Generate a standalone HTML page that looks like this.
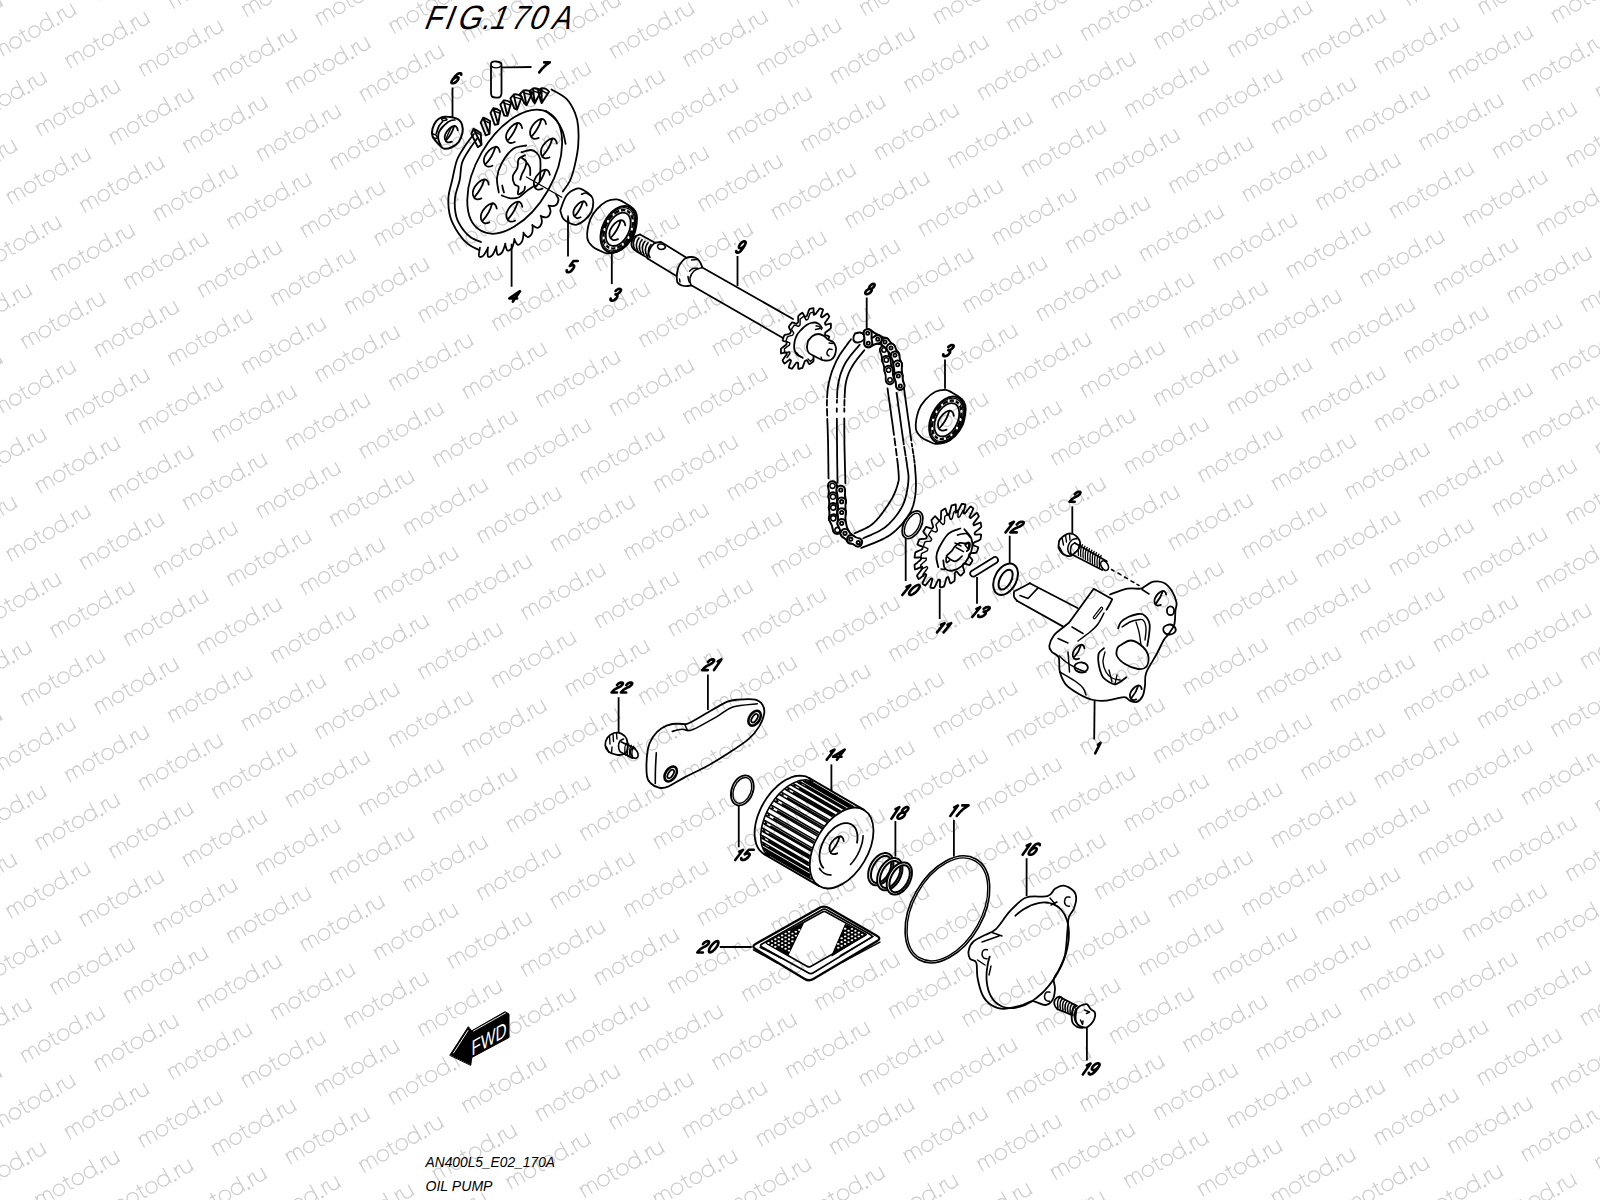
<!DOCTYPE html><html><head><meta charset="utf-8"><style>html,body{margin:0;padding:0;background:#fff;overflow:hidden}svg{display:block}</style></head><body><svg width="1600" height="1200" viewBox="0 0 1600 1200"><rect width="1600" height="1200" fill="#fff"/><defs><path id="wm" d="M0.4 0V-11.3M0.4 -6.8C0.9 -10 2.5 -11.3 4.2 -11.3C6.3 -11.3 7.7 -9.8 7.7 -7.2V0M7.7 -7.2C7.9 -10 9.5 -11.3 11.4 -11.3C13.6 -11.3 15.2 -9.8 15.2 -7V0M29.85 -5.65A5.65 5.65 0 1 0 18.55 -5.65A5.65 5.65 0 1 0 29.85 -5.65M34.6 -14.6V-3C34.6 -0.8 35.6 0 37.8 0M31.8 -11.1H37.9M51.65 -5.65A5.65 5.65 0 1 0 40.35 -5.65A5.65 5.65 0 1 0 51.65 -5.65M65.45 -5.65A5.65 5.65 0 1 0 54.15 -5.65A5.65 5.65 0 1 0 65.45 -5.65M65.45 -16.4V0M70.3 -0.75A0.75 0.75 0 1 0 70.31 -0.75M75.4 0V-11.3M75.4 -6.5C75.8 -9.8 77.5 -11.3 80 -11.3M81.3 -11.3V-5C81.3 -1.8 83.2 0 86.1 0C89 0 90.9 -1.8 90.9 -5M90.9 -11.3V0"/></defs><g fill="none" stroke="#cdcdcd" stroke-width="1.25" stroke-linecap="round"><use href="#wm" transform="translate(-46.7 -16.9) rotate(-30)"/><use href="#wm" transform="translate(-76.1 51.2) rotate(-30)"/><use href="#wm" transform="translate(-105.6 119.2) rotate(-30)"/><use href="#wm" transform="translate(26.9 -8.5) rotate(-30)"/><use href="#wm" transform="translate(-2.6 59.5) rotate(-30)"/><use href="#wm" transform="translate(-32.0 127.6) rotate(-30)"/><use href="#wm" transform="translate(-61.5 195.6) rotate(-30)"/><use href="#wm" transform="translate(-91.0 263.7) rotate(-30)"/><use href="#wm" transform="translate(100.5 -0.2) rotate(-30)"/><use href="#wm" transform="translate(71.0 67.9) rotate(-30)"/><use href="#wm" transform="translate(41.5 135.9) rotate(-30)"/><use href="#wm" transform="translate(12.1 204.0) rotate(-30)"/><use href="#wm" transform="translate(-17.4 272.1) rotate(-30)"/><use href="#wm" transform="translate(-46.9 340.1) rotate(-30)"/><use href="#wm" transform="translate(-76.3 408.2) rotate(-30)"/><use href="#wm" transform="translate(-105.8 476.2) rotate(-30)"/><use href="#wm" transform="translate(174.0 8.2) rotate(-30)"/><use href="#wm" transform="translate(144.6 76.2) rotate(-30)"/><use href="#wm" transform="translate(115.1 144.3) rotate(-30)"/><use href="#wm" transform="translate(85.6 212.3) rotate(-30)"/><use href="#wm" transform="translate(56.2 280.4) rotate(-30)"/><use href="#wm" transform="translate(26.7 348.5) rotate(-30)"/><use href="#wm" transform="translate(-2.8 416.5) rotate(-30)"/><use href="#wm" transform="translate(-32.2 484.6) rotate(-30)"/><use href="#wm" transform="translate(-61.7 552.6) rotate(-30)"/><use href="#wm" transform="translate(-91.2 620.7) rotate(-30)"/><use href="#wm" transform="translate(247.6 16.5) rotate(-30)"/><use href="#wm" transform="translate(218.2 84.6) rotate(-30)"/><use href="#wm" transform="translate(188.7 152.6) rotate(-30)"/><use href="#wm" transform="translate(159.2 220.7) rotate(-30)"/><use href="#wm" transform="translate(129.7 288.8) rotate(-30)"/><use href="#wm" transform="translate(100.3 356.8) rotate(-30)"/><use href="#wm" transform="translate(70.8 424.9) rotate(-30)"/><use href="#wm" transform="translate(41.3 492.9) rotate(-30)"/><use href="#wm" transform="translate(11.9 561.0) rotate(-30)"/><use href="#wm" transform="translate(-17.6 629.1) rotate(-30)"/><use href="#wm" transform="translate(-47.1 697.1) rotate(-30)"/><use href="#wm" transform="translate(-76.5 765.2) rotate(-30)"/><use href="#wm" transform="translate(-106.0 833.2) rotate(-30)"/><use href="#wm" transform="translate(321.2 24.9) rotate(-30)"/><use href="#wm" transform="translate(291.7 92.9) rotate(-30)"/><use href="#wm" transform="translate(262.3 161.0) rotate(-30)"/><use href="#wm" transform="translate(232.8 229.0) rotate(-30)"/><use href="#wm" transform="translate(203.3 297.1) rotate(-30)"/><use href="#wm" transform="translate(173.8 365.2) rotate(-30)"/><use href="#wm" transform="translate(144.4 433.2) rotate(-30)"/><use href="#wm" transform="translate(114.9 501.3) rotate(-30)"/><use href="#wm" transform="translate(85.4 569.3) rotate(-30)"/><use href="#wm" transform="translate(56.0 637.4) rotate(-30)"/><use href="#wm" transform="translate(26.5 705.5) rotate(-30)"/><use href="#wm" transform="translate(-3.0 773.5) rotate(-30)"/><use href="#wm" transform="translate(-32.4 841.6) rotate(-30)"/><use href="#wm" transform="translate(-61.9 909.6) rotate(-30)"/><use href="#wm" transform="translate(-91.4 977.7) rotate(-30)"/><use href="#wm" transform="translate(394.8 33.2) rotate(-30)"/><use href="#wm" transform="translate(365.3 101.3) rotate(-30)"/><use href="#wm" transform="translate(335.8 169.3) rotate(-30)"/><use href="#wm" transform="translate(306.4 237.4) rotate(-30)"/><use href="#wm" transform="translate(276.9 305.5) rotate(-30)"/><use href="#wm" transform="translate(247.4 373.5) rotate(-30)"/><use href="#wm" transform="translate(217.9 441.6) rotate(-30)"/><use href="#wm" transform="translate(188.5 509.6) rotate(-30)"/><use href="#wm" transform="translate(159.0 577.7) rotate(-30)"/><use href="#wm" transform="translate(129.5 645.8) rotate(-30)"/><use href="#wm" transform="translate(100.1 713.8) rotate(-30)"/><use href="#wm" transform="translate(70.6 781.9) rotate(-30)"/><use href="#wm" transform="translate(41.1 849.9) rotate(-30)"/><use href="#wm" transform="translate(11.7 918.0) rotate(-30)"/><use href="#wm" transform="translate(-17.8 986.1) rotate(-30)"/><use href="#wm" transform="translate(-47.3 1054.1) rotate(-30)"/><use href="#wm" transform="translate(-76.8 1122.2) rotate(-30)"/><use href="#wm" transform="translate(-106.2 1190.2) rotate(-30)"/><use href="#wm" transform="translate(468.3 41.6) rotate(-30)"/><use href="#wm" transform="translate(438.9 109.6) rotate(-30)"/><use href="#wm" transform="translate(409.4 177.7) rotate(-30)"/><use href="#wm" transform="translate(379.9 245.7) rotate(-30)"/><use href="#wm" transform="translate(350.5 313.8) rotate(-30)"/><use href="#wm" transform="translate(321.0 381.9) rotate(-30)"/><use href="#wm" transform="translate(291.5 449.9) rotate(-30)"/><use href="#wm" transform="translate(262.0 518.0) rotate(-30)"/><use href="#wm" transform="translate(232.6 586.0) rotate(-30)"/><use href="#wm" transform="translate(203.1 654.1) rotate(-30)"/><use href="#wm" transform="translate(173.6 722.2) rotate(-30)"/><use href="#wm" transform="translate(144.2 790.2) rotate(-30)"/><use href="#wm" transform="translate(114.7 858.3) rotate(-30)"/><use href="#wm" transform="translate(85.2 926.3) rotate(-30)"/><use href="#wm" transform="translate(55.8 994.4) rotate(-30)"/><use href="#wm" transform="translate(26.3 1062.5) rotate(-30)"/><use href="#wm" transform="translate(-3.2 1130.5) rotate(-30)"/><use href="#wm" transform="translate(-32.7 1198.6) rotate(-30)"/><use href="#wm" transform="translate(571.4 -18.1) rotate(-30)"/><use href="#wm" transform="translate(541.9 49.9) rotate(-30)"/><use href="#wm" transform="translate(512.4 118.0) rotate(-30)"/><use href="#wm" transform="translate(483.0 186.0) rotate(-30)"/><use href="#wm" transform="translate(453.5 254.1) rotate(-30)"/><use href="#wm" transform="translate(424.0 322.2) rotate(-30)"/><use href="#wm" transform="translate(394.6 390.2) rotate(-30)"/><use href="#wm" transform="translate(365.1 458.3) rotate(-30)"/><use href="#wm" transform="translate(335.6 526.3) rotate(-30)"/><use href="#wm" transform="translate(306.1 594.4) rotate(-30)"/><use href="#wm" transform="translate(276.7 662.5) rotate(-30)"/><use href="#wm" transform="translate(247.2 730.5) rotate(-30)"/><use href="#wm" transform="translate(217.7 798.6) rotate(-30)"/><use href="#wm" transform="translate(188.3 866.6) rotate(-30)"/><use href="#wm" transform="translate(158.8 934.7) rotate(-30)"/><use href="#wm" transform="translate(129.3 1002.8) rotate(-30)"/><use href="#wm" transform="translate(99.9 1070.8) rotate(-30)"/><use href="#wm" transform="translate(70.4 1138.9) rotate(-30)"/><use href="#wm" transform="translate(40.9 1206.9) rotate(-30)"/><use href="#wm" transform="translate(644.9 -9.8) rotate(-30)"/><use href="#wm" transform="translate(615.5 58.3) rotate(-30)"/><use href="#wm" transform="translate(586.0 126.3) rotate(-30)"/><use href="#wm" transform="translate(556.5 194.4) rotate(-30)"/><use href="#wm" transform="translate(527.1 262.4) rotate(-30)"/><use href="#wm" transform="translate(497.6 330.5) rotate(-30)"/><use href="#wm" transform="translate(468.1 398.6) rotate(-30)"/><use href="#wm" transform="translate(438.7 466.6) rotate(-30)"/><use href="#wm" transform="translate(409.2 534.7) rotate(-30)"/><use href="#wm" transform="translate(379.7 602.7) rotate(-30)"/><use href="#wm" transform="translate(350.2 670.8) rotate(-30)"/><use href="#wm" transform="translate(320.8 738.9) rotate(-30)"/><use href="#wm" transform="translate(291.3 806.9) rotate(-30)"/><use href="#wm" transform="translate(261.8 875.0) rotate(-30)"/><use href="#wm" transform="translate(232.4 943.0) rotate(-30)"/><use href="#wm" transform="translate(202.9 1011.1) rotate(-30)"/><use href="#wm" transform="translate(173.4 1079.2) rotate(-30)"/><use href="#wm" transform="translate(144.0 1147.2) rotate(-30)"/><use href="#wm" transform="translate(114.5 1215.3) rotate(-30)"/><use href="#wm" transform="translate(718.5 -1.4) rotate(-30)"/><use href="#wm" transform="translate(689.0 66.6) rotate(-30)"/><use href="#wm" transform="translate(659.6 134.7) rotate(-30)"/><use href="#wm" transform="translate(630.1 202.7) rotate(-30)"/><use href="#wm" transform="translate(600.6 270.8) rotate(-30)"/><use href="#wm" transform="translate(571.2 338.9) rotate(-30)"/><use href="#wm" transform="translate(541.7 406.9) rotate(-30)"/><use href="#wm" transform="translate(512.2 475.0) rotate(-30)"/><use href="#wm" transform="translate(482.8 543.0) rotate(-30)"/><use href="#wm" transform="translate(453.3 611.1) rotate(-30)"/><use href="#wm" transform="translate(423.8 679.1) rotate(-30)"/><use href="#wm" transform="translate(394.3 747.2) rotate(-30)"/><use href="#wm" transform="translate(364.9 815.3) rotate(-30)"/><use href="#wm" transform="translate(335.4 883.3) rotate(-30)"/><use href="#wm" transform="translate(305.9 951.4) rotate(-30)"/><use href="#wm" transform="translate(276.5 1019.5) rotate(-30)"/><use href="#wm" transform="translate(247.0 1087.5) rotate(-30)"/><use href="#wm" transform="translate(217.5 1155.6) rotate(-30)"/><use href="#wm" transform="translate(188.0 1223.6) rotate(-30)"/><use href="#wm" transform="translate(792.1 6.9) rotate(-30)"/><use href="#wm" transform="translate(762.6 75.0) rotate(-30)"/><use href="#wm" transform="translate(733.1 143.0) rotate(-30)"/><use href="#wm" transform="translate(703.7 211.1) rotate(-30)"/><use href="#wm" transform="translate(674.2 279.1) rotate(-30)"/><use href="#wm" transform="translate(644.7 347.2) rotate(-30)"/><use href="#wm" transform="translate(615.3 415.3) rotate(-30)"/><use href="#wm" transform="translate(585.8 483.3) rotate(-30)"/><use href="#wm" transform="translate(556.3 551.4) rotate(-30)"/><use href="#wm" transform="translate(526.9 619.4) rotate(-30)"/><use href="#wm" transform="translate(497.4 687.5) rotate(-30)"/><use href="#wm" transform="translate(467.9 755.6) rotate(-30)"/><use href="#wm" transform="translate(438.4 823.6) rotate(-30)"/><use href="#wm" transform="translate(409.0 891.7) rotate(-30)"/><use href="#wm" transform="translate(379.5 959.7) rotate(-30)"/><use href="#wm" transform="translate(350.0 1027.8) rotate(-30)"/><use href="#wm" transform="translate(320.6 1095.9) rotate(-30)"/><use href="#wm" transform="translate(291.1 1163.9) rotate(-30)"/><use href="#wm" transform="translate(261.6 1232.0) rotate(-30)"/><use href="#wm" transform="translate(865.7 15.2) rotate(-30)"/><use href="#wm" transform="translate(836.2 83.3) rotate(-30)"/><use href="#wm" transform="translate(806.7 151.4) rotate(-30)"/><use href="#wm" transform="translate(777.2 219.4) rotate(-30)"/><use href="#wm" transform="translate(747.8 287.5) rotate(-30)"/><use href="#wm" transform="translate(718.3 355.6) rotate(-30)"/><use href="#wm" transform="translate(688.8 423.6) rotate(-30)"/><use href="#wm" transform="translate(659.4 491.7) rotate(-30)"/><use href="#wm" transform="translate(629.9 559.7) rotate(-30)"/><use href="#wm" transform="translate(600.4 627.8) rotate(-30)"/><use href="#wm" transform="translate(571.0 695.9) rotate(-30)"/><use href="#wm" transform="translate(541.5 763.9) rotate(-30)"/><use href="#wm" transform="translate(512.0 832.0) rotate(-30)"/><use href="#wm" transform="translate(482.5 900.0) rotate(-30)"/><use href="#wm" transform="translate(453.1 968.1) rotate(-30)"/><use href="#wm" transform="translate(423.6 1036.2) rotate(-30)"/><use href="#wm" transform="translate(394.1 1104.2) rotate(-30)"/><use href="#wm" transform="translate(364.7 1172.3) rotate(-30)"/><use href="#wm" transform="translate(335.2 1240.3) rotate(-30)"/><use href="#wm" transform="translate(939.2 23.6) rotate(-30)"/><use href="#wm" transform="translate(909.8 91.7) rotate(-30)"/><use href="#wm" transform="translate(880.3 159.7) rotate(-30)"/><use href="#wm" transform="translate(850.8 227.8) rotate(-30)"/><use href="#wm" transform="translate(821.3 295.8) rotate(-30)"/><use href="#wm" transform="translate(791.9 363.9) rotate(-30)"/><use href="#wm" transform="translate(762.4 432.0) rotate(-30)"/><use href="#wm" transform="translate(732.9 500.0) rotate(-30)"/><use href="#wm" transform="translate(703.5 568.1) rotate(-30)"/><use href="#wm" transform="translate(674.0 636.1) rotate(-30)"/><use href="#wm" transform="translate(644.5 704.2) rotate(-30)"/><use href="#wm" transform="translate(615.1 772.3) rotate(-30)"/><use href="#wm" transform="translate(585.6 840.3) rotate(-30)"/><use href="#wm" transform="translate(556.1 908.4) rotate(-30)"/><use href="#wm" transform="translate(526.6 976.4) rotate(-30)"/><use href="#wm" transform="translate(497.2 1044.5) rotate(-30)"/><use href="#wm" transform="translate(467.7 1112.6) rotate(-30)"/><use href="#wm" transform="translate(438.2 1180.6) rotate(-30)"/><use href="#wm" transform="translate(408.8 1248.7) rotate(-30)"/><use href="#wm" transform="translate(1012.8 32.0) rotate(-30)"/><use href="#wm" transform="translate(983.3 100.0) rotate(-30)"/><use href="#wm" transform="translate(953.8 168.1) rotate(-30)"/><use href="#wm" transform="translate(924.4 236.1) rotate(-30)"/><use href="#wm" transform="translate(894.9 304.2) rotate(-30)"/><use href="#wm" transform="translate(865.4 372.2) rotate(-30)"/><use href="#wm" transform="translate(836.0 440.3) rotate(-30)"/><use href="#wm" transform="translate(806.5 508.4) rotate(-30)"/><use href="#wm" transform="translate(777.0 576.4) rotate(-30)"/><use href="#wm" transform="translate(747.6 644.5) rotate(-30)"/><use href="#wm" transform="translate(718.1 712.6) rotate(-30)"/><use href="#wm" transform="translate(688.6 780.6) rotate(-30)"/><use href="#wm" transform="translate(659.1 848.7) rotate(-30)"/><use href="#wm" transform="translate(629.7 916.7) rotate(-30)"/><use href="#wm" transform="translate(600.2 984.8) rotate(-30)"/><use href="#wm" transform="translate(570.7 1052.9) rotate(-30)"/><use href="#wm" transform="translate(541.3 1120.9) rotate(-30)"/><use href="#wm" transform="translate(511.8 1189.0) rotate(-30)"/><use href="#wm" transform="translate(482.3 1257.0) rotate(-30)"/><use href="#wm" transform="translate(1086.4 40.3) rotate(-30)"/><use href="#wm" transform="translate(1056.9 108.4) rotate(-30)"/><use href="#wm" transform="translate(1027.4 176.4) rotate(-30)"/><use href="#wm" transform="translate(998.0 244.5) rotate(-30)"/><use href="#wm" transform="translate(968.5 312.5) rotate(-30)"/><use href="#wm" transform="translate(939.0 380.6) rotate(-30)"/><use href="#wm" transform="translate(909.5 448.7) rotate(-30)"/><use href="#wm" transform="translate(880.1 516.7) rotate(-30)"/><use href="#wm" transform="translate(850.6 584.8) rotate(-30)"/><use href="#wm" transform="translate(821.1 652.8) rotate(-30)"/><use href="#wm" transform="translate(791.7 720.9) rotate(-30)"/><use href="#wm" transform="translate(762.2 789.0) rotate(-30)"/><use href="#wm" transform="translate(732.7 857.0) rotate(-30)"/><use href="#wm" transform="translate(703.3 925.1) rotate(-30)"/><use href="#wm" transform="translate(673.8 993.1) rotate(-30)"/><use href="#wm" transform="translate(644.3 1061.2) rotate(-30)"/><use href="#wm" transform="translate(614.8 1129.3) rotate(-30)"/><use href="#wm" transform="translate(585.4 1197.3) rotate(-30)"/><use href="#wm" transform="translate(1189.4 -19.4) rotate(-30)"/><use href="#wm" transform="translate(1159.9 48.6) rotate(-30)"/><use href="#wm" transform="translate(1130.5 116.7) rotate(-30)"/><use href="#wm" transform="translate(1101.0 184.8) rotate(-30)"/><use href="#wm" transform="translate(1071.5 252.8) rotate(-30)"/><use href="#wm" transform="translate(1042.1 320.9) rotate(-30)"/><use href="#wm" transform="translate(1012.6 388.9) rotate(-30)"/><use href="#wm" transform="translate(983.1 457.0) rotate(-30)"/><use href="#wm" transform="translate(953.6 525.1) rotate(-30)"/><use href="#wm" transform="translate(924.2 593.1) rotate(-30)"/><use href="#wm" transform="translate(894.7 661.2) rotate(-30)"/><use href="#wm" transform="translate(865.2 729.2) rotate(-30)"/><use href="#wm" transform="translate(835.8 797.3) rotate(-30)"/><use href="#wm" transform="translate(806.3 865.4) rotate(-30)"/><use href="#wm" transform="translate(776.8 933.4) rotate(-30)"/><use href="#wm" transform="translate(747.4 1001.5) rotate(-30)"/><use href="#wm" transform="translate(717.9 1069.6) rotate(-30)"/><use href="#wm" transform="translate(688.4 1137.6) rotate(-30)"/><use href="#wm" transform="translate(658.9 1205.7) rotate(-30)"/><use href="#wm" transform="translate(1263.0 -11.1) rotate(-30)"/><use href="#wm" transform="translate(1233.5 57.0) rotate(-30)"/><use href="#wm" transform="translate(1204.0 125.1) rotate(-30)"/><use href="#wm" transform="translate(1174.6 193.1) rotate(-30)"/><use href="#wm" transform="translate(1145.1 261.2) rotate(-30)"/><use href="#wm" transform="translate(1115.6 329.2) rotate(-30)"/><use href="#wm" transform="translate(1086.2 397.3) rotate(-30)"/><use href="#wm" transform="translate(1056.7 465.4) rotate(-30)"/><use href="#wm" transform="translate(1027.2 533.4) rotate(-30)"/><use href="#wm" transform="translate(997.7 601.5) rotate(-30)"/><use href="#wm" transform="translate(968.3 669.5) rotate(-30)"/><use href="#wm" transform="translate(938.8 737.6) rotate(-30)"/><use href="#wm" transform="translate(909.3 805.7) rotate(-30)"/><use href="#wm" transform="translate(879.9 873.7) rotate(-30)"/><use href="#wm" transform="translate(850.4 941.8) rotate(-30)"/><use href="#wm" transform="translate(820.9 1009.8) rotate(-30)"/><use href="#wm" transform="translate(791.5 1077.9) rotate(-30)"/><use href="#wm" transform="translate(762.0 1146.0) rotate(-30)"/><use href="#wm" transform="translate(732.5 1214.0) rotate(-30)"/><use href="#wm" transform="translate(1336.5 -2.7) rotate(-30)"/><use href="#wm" transform="translate(1307.1 65.3) rotate(-30)"/><use href="#wm" transform="translate(1277.6 133.4) rotate(-30)"/><use href="#wm" transform="translate(1248.1 201.5) rotate(-30)"/><use href="#wm" transform="translate(1218.7 269.5) rotate(-30)"/><use href="#wm" transform="translate(1189.2 337.6) rotate(-30)"/><use href="#wm" transform="translate(1159.7 405.6) rotate(-30)"/><use href="#wm" transform="translate(1130.2 473.7) rotate(-30)"/><use href="#wm" transform="translate(1100.8 541.8) rotate(-30)"/><use href="#wm" transform="translate(1071.3 609.8) rotate(-30)"/><use href="#wm" transform="translate(1041.8 677.9) rotate(-30)"/><use href="#wm" transform="translate(1012.4 746.0) rotate(-30)"/><use href="#wm" transform="translate(982.9 814.0) rotate(-30)"/><use href="#wm" transform="translate(953.4 882.1) rotate(-30)"/><use href="#wm" transform="translate(924.0 950.1) rotate(-30)"/><use href="#wm" transform="translate(894.5 1018.2) rotate(-30)"/><use href="#wm" transform="translate(865.0 1086.2) rotate(-30)"/><use href="#wm" transform="translate(835.5 1154.3) rotate(-30)"/><use href="#wm" transform="translate(806.1 1222.4) rotate(-30)"/><use href="#wm" transform="translate(1410.1 5.6) rotate(-30)"/><use href="#wm" transform="translate(1380.6 73.7) rotate(-30)"/><use href="#wm" transform="translate(1351.2 141.8) rotate(-30)"/><use href="#wm" transform="translate(1321.7 209.8) rotate(-30)"/><use href="#wm" transform="translate(1292.2 277.9) rotate(-30)"/><use href="#wm" transform="translate(1262.8 345.9) rotate(-30)"/><use href="#wm" transform="translate(1233.3 414.0) rotate(-30)"/><use href="#wm" transform="translate(1203.8 482.1) rotate(-30)"/><use href="#wm" transform="translate(1174.3 550.1) rotate(-30)"/><use href="#wm" transform="translate(1144.9 618.2) rotate(-30)"/><use href="#wm" transform="translate(1115.4 686.2) rotate(-30)"/><use href="#wm" transform="translate(1085.9 754.3) rotate(-30)"/><use href="#wm" transform="translate(1056.5 822.4) rotate(-30)"/><use href="#wm" transform="translate(1027.0 890.4) rotate(-30)"/><use href="#wm" transform="translate(997.5 958.5) rotate(-30)"/><use href="#wm" transform="translate(968.1 1026.5) rotate(-30)"/><use href="#wm" transform="translate(938.6 1094.6) rotate(-30)"/><use href="#wm" transform="translate(909.1 1162.7) rotate(-30)"/><use href="#wm" transform="translate(879.6 1230.7) rotate(-30)"/><use href="#wm" transform="translate(1483.7 14.0) rotate(-30)"/><use href="#wm" transform="translate(1454.2 82.0) rotate(-30)"/><use href="#wm" transform="translate(1424.7 150.1) rotate(-30)"/><use href="#wm" transform="translate(1395.3 218.2) rotate(-30)"/><use href="#wm" transform="translate(1365.8 286.2) rotate(-30)"/><use href="#wm" transform="translate(1336.3 354.3) rotate(-30)"/><use href="#wm" transform="translate(1306.9 422.4) rotate(-30)"/><use href="#wm" transform="translate(1277.4 490.4) rotate(-30)"/><use href="#wm" transform="translate(1247.9 558.5) rotate(-30)"/><use href="#wm" transform="translate(1218.5 626.5) rotate(-30)"/><use href="#wm" transform="translate(1189.0 694.6) rotate(-30)"/><use href="#wm" transform="translate(1159.5 762.6) rotate(-30)"/><use href="#wm" transform="translate(1130.0 830.7) rotate(-30)"/><use href="#wm" transform="translate(1100.6 898.8) rotate(-30)"/><use href="#wm" transform="translate(1071.1 966.8) rotate(-30)"/><use href="#wm" transform="translate(1041.6 1034.9) rotate(-30)"/><use href="#wm" transform="translate(1012.2 1103.0) rotate(-30)"/><use href="#wm" transform="translate(982.7 1171.0) rotate(-30)"/><use href="#wm" transform="translate(953.2 1239.1) rotate(-30)"/><use href="#wm" transform="translate(1557.2 22.3) rotate(-30)"/><use href="#wm" transform="translate(1527.8 90.4) rotate(-30)"/><use href="#wm" transform="translate(1498.3 158.5) rotate(-30)"/><use href="#wm" transform="translate(1468.8 226.5) rotate(-30)"/><use href="#wm" transform="translate(1439.4 294.6) rotate(-30)"/><use href="#wm" transform="translate(1409.9 362.6) rotate(-30)"/><use href="#wm" transform="translate(1380.4 430.7) rotate(-30)"/><use href="#wm" transform="translate(1351.0 498.8) rotate(-30)"/><use href="#wm" transform="translate(1321.5 566.8) rotate(-30)"/><use href="#wm" transform="translate(1292.0 634.9) rotate(-30)"/><use href="#wm" transform="translate(1262.5 702.9) rotate(-30)"/><use href="#wm" transform="translate(1233.1 771.0) rotate(-30)"/><use href="#wm" transform="translate(1203.6 839.1) rotate(-30)"/><use href="#wm" transform="translate(1174.1 907.1) rotate(-30)"/><use href="#wm" transform="translate(1144.7 975.2) rotate(-30)"/><use href="#wm" transform="translate(1115.2 1043.2) rotate(-30)"/><use href="#wm" transform="translate(1085.7 1111.3) rotate(-30)"/><use href="#wm" transform="translate(1056.3 1179.4) rotate(-30)"/><use href="#wm" transform="translate(1026.8 1247.4) rotate(-30)"/><use href="#wm" transform="translate(1630.8 30.7) rotate(-30)"/><use href="#wm" transform="translate(1601.3 98.8) rotate(-30)"/><use href="#wm" transform="translate(1571.9 166.8) rotate(-30)"/><use href="#wm" transform="translate(1542.4 234.9) rotate(-30)"/><use href="#wm" transform="translate(1512.9 302.9) rotate(-30)"/><use href="#wm" transform="translate(1483.5 371.0) rotate(-30)"/><use href="#wm" transform="translate(1454.0 439.1) rotate(-30)"/><use href="#wm" transform="translate(1424.5 507.1) rotate(-30)"/><use href="#wm" transform="translate(1395.1 575.2) rotate(-30)"/><use href="#wm" transform="translate(1365.6 643.2) rotate(-30)"/><use href="#wm" transform="translate(1336.1 711.3) rotate(-30)"/><use href="#wm" transform="translate(1306.6 779.4) rotate(-30)"/><use href="#wm" transform="translate(1277.2 847.4) rotate(-30)"/><use href="#wm" transform="translate(1247.7 915.5) rotate(-30)"/><use href="#wm" transform="translate(1218.2 983.5) rotate(-30)"/><use href="#wm" transform="translate(1188.8 1051.6) rotate(-30)"/><use href="#wm" transform="translate(1159.3 1119.7) rotate(-30)"/><use href="#wm" transform="translate(1129.8 1187.7) rotate(-30)"/><use href="#wm" transform="translate(1100.4 1255.8) rotate(-30)"/><use href="#wm" transform="translate(1645.5 175.2) rotate(-30)"/><use href="#wm" transform="translate(1616.0 243.2) rotate(-30)"/><use href="#wm" transform="translate(1586.5 311.3) rotate(-30)"/><use href="#wm" transform="translate(1557.0 379.3) rotate(-30)"/><use href="#wm" transform="translate(1527.6 447.4) rotate(-30)"/><use href="#wm" transform="translate(1498.1 515.5) rotate(-30)"/><use href="#wm" transform="translate(1468.6 583.5) rotate(-30)"/><use href="#wm" transform="translate(1439.2 651.6) rotate(-30)"/><use href="#wm" transform="translate(1409.7 719.6) rotate(-30)"/><use href="#wm" transform="translate(1380.2 787.7) rotate(-30)"/><use href="#wm" transform="translate(1350.8 855.8) rotate(-30)"/><use href="#wm" transform="translate(1321.3 923.8) rotate(-30)"/><use href="#wm" transform="translate(1291.8 991.9) rotate(-30)"/><use href="#wm" transform="translate(1262.3 1059.9) rotate(-30)"/><use href="#wm" transform="translate(1232.9 1128.0) rotate(-30)"/><use href="#wm" transform="translate(1203.4 1196.1) rotate(-30)"/><use href="#wm" transform="translate(1630.6 387.7) rotate(-30)"/><use href="#wm" transform="translate(1601.1 455.8) rotate(-30)"/><use href="#wm" transform="translate(1571.7 523.8) rotate(-30)"/><use href="#wm" transform="translate(1542.2 591.9) rotate(-30)"/><use href="#wm" transform="translate(1512.7 659.9) rotate(-30)"/><use href="#wm" transform="translate(1483.3 728.0) rotate(-30)"/><use href="#wm" transform="translate(1453.8 796.0) rotate(-30)"/><use href="#wm" transform="translate(1424.3 864.1) rotate(-30)"/><use href="#wm" transform="translate(1394.8 932.2) rotate(-30)"/><use href="#wm" transform="translate(1365.4 1000.2) rotate(-30)"/><use href="#wm" transform="translate(1335.9 1068.3) rotate(-30)"/><use href="#wm" transform="translate(1306.4 1136.4) rotate(-30)"/><use href="#wm" transform="translate(1277.0 1204.4) rotate(-30)"/><use href="#wm" transform="translate(1645.2 532.2) rotate(-30)"/><use href="#wm" transform="translate(1615.8 600.2) rotate(-30)"/><use href="#wm" transform="translate(1586.3 668.3) rotate(-30)"/><use href="#wm" transform="translate(1556.8 736.3) rotate(-30)"/><use href="#wm" transform="translate(1527.4 804.4) rotate(-30)"/><use href="#wm" transform="translate(1497.9 872.5) rotate(-30)"/><use href="#wm" transform="translate(1468.4 940.5) rotate(-30)"/><use href="#wm" transform="translate(1438.9 1008.6) rotate(-30)"/><use href="#wm" transform="translate(1409.5 1076.6) rotate(-30)"/><use href="#wm" transform="translate(1380.0 1144.7) rotate(-30)"/><use href="#wm" transform="translate(1350.5 1212.8) rotate(-30)"/><use href="#wm" transform="translate(1630.4 744.7) rotate(-30)"/><use href="#wm" transform="translate(1600.9 812.8) rotate(-30)"/><use href="#wm" transform="translate(1571.5 880.8) rotate(-30)"/><use href="#wm" transform="translate(1542.0 948.9) rotate(-30)"/><use href="#wm" transform="translate(1512.5 1016.9) rotate(-30)"/><use href="#wm" transform="translate(1483.0 1085.0) rotate(-30)"/><use href="#wm" transform="translate(1453.6 1153.1) rotate(-30)"/><use href="#wm" transform="translate(1424.1 1221.1) rotate(-30)"/><use href="#wm" transform="translate(1645.0 889.2) rotate(-30)"/><use href="#wm" transform="translate(1615.6 957.2) rotate(-30)"/><use href="#wm" transform="translate(1586.1 1025.3) rotate(-30)"/><use href="#wm" transform="translate(1556.6 1093.3) rotate(-30)"/><use href="#wm" transform="translate(1527.1 1161.4) rotate(-30)"/><use href="#wm" transform="translate(1497.7 1229.5) rotate(-30)"/><use href="#wm" transform="translate(1630.2 1101.7) rotate(-30)"/><use href="#wm" transform="translate(1600.7 1169.8) rotate(-30)"/><use href="#wm" transform="translate(1571.2 1237.8) rotate(-30)"/><use href="#wm" transform="translate(1644.8 1246.2) rotate(-30)"/></g><g fill="none" stroke="#000" stroke-width="1.8" stroke-linecap="round" stroke-linejoin="round"><ellipse cx="514.7" cy="171.7" rx="38.2" ry="68" transform="rotate(30 514.7 171.7)"/><path d="M551.5 89.4C554 91 562.6 94.8 566.5 98.8C570.4 102.7 573 108.1 575 112.8C577 117.5 577.7 121.4 578.2 126.9C578.7 132.4 578.7 139.3 578.2 145.6C577.7 151.8 576.3 158.7 575 164.4C573.7 170.1 572.3 175.5 570.3 180C568.3 184.5 564 189.6 562.8 191.5"/><path d="M546 111C547.7 112.5 553.2 116.7 556 120C558.8 123.3 560.9 127 562.5 131C564.1 135 565.1 141.6 565.6 143.8"/><path d="M474 134C472.5 136 467.8 141.7 465 146C462.2 150.3 459.1 154.3 457 160C454.9 165.7 453.6 173.7 452.2 180C450.8 186.3 448.7 191.8 448.4 198C448.1 204.2 448.6 210.9 450.3 216.9C452 222.9 455.8 229.2 458.8 233.8C461.7 238.3 464.7 241.3 468 244C471.3 246.7 476.7 248.8 478.4 249.7"/><path d="M477.5 138C476.1 140 471.6 145.8 469 150C466.4 154.2 463.6 158 462 163C460.4 168 460.9 174.2 459.7 180C458.5 185.8 455.6 191.8 455 198C454.4 204.2 455 211.6 456.4 216.9C457.8 222.2 461 226.6 463.4 230C465.8 233.4 468.1 235.5 471 237.5C473.9 239.5 479.3 241.2 481 242"/><path d="M481.5 144.8L473.5 128.9Q476.4 130 480.7 133L481.5 144.8ZM473.5 128.9L471.4 133.9L477.8 147.1L481.5 144.8M489.4 133.8L483.2 117.8Q486.2 118.3 490.2 121.3L489.4 133.8ZM483.2 117.8L480.7 122.7L485.8 135.3L489.4 133.8M498.2 124.1L493.3 108.3Q496.6 108.2 500.4 111.2L498.2 124.1ZM493.3 108.3L490.5 112.9L494.7 124.7L498.2 124.1M507.5 115.9L503.6 100.5Q507.3 99.9 511 102.9L507.5 115.9ZM503.6 100.5L500.4 104.7L504.3 115.6L507.5 115.9M517.1 109.5L513.7 94.5Q518 93.6 521.8 96.7L517.1 109.5ZM513.7 94.5L510.4 98.3L514.3 108.4L517.1 109.5M526.5 105.3L523.6 90.5Q528.5 89.5 532.3 92.8L526.5 105.3ZM523.6 90.5L520.2 93.8L524.3 103.3L526.5 105.3M534.7 103.3L533 88.4Q537.7 87.7 541 91.3L534.7 103.3ZM533 88.4L529.5 91.1L532.9 100.7L534.7 103.3M541.7 103.1L541.6 88.2Q546.2 87.8 549 91.7L541.7 103.1ZM541.6 88.2L538.1 90.4L540.4 99.9L541.7 103.1" stroke-width="1.9"/><path d="M474.8 131.6L480.9 135M484.2 120.5L490.1 123.4M494.1 111L500 113.4M504.2 103.1L510.4 105.1M514.3 97.1L521 98.9M524.1 93L531.3 94.9M533.3 90.9L540 93.3M541.6 90.7L547.8 93.6" stroke-width="1.4"/><path d="M556.1 194.7C556.5 195.6 558.6 198 558.5 199.8C558.3 201.6 556.9 204.5 555.3 205.5C553.8 206.5 550.1 205.8 549 205.9C548 206 548.8 204.9 549 205.9C549.3 206.9 550.9 210 550.5 211.8C550.2 213.7 548.5 216.5 546.9 217.2C545.4 218 542.1 216.4 541.1 216.2C540.2 216.1 541.1 215.1 541.1 216.2C541.2 217.4 542.3 221 541.7 222.9C541.1 224.9 539.2 227.4 537.7 227.9C536.2 228.3 533.4 225.9 532.6 225.5C531.8 225.1 532.7 224.3 532.6 225.5C532.5 226.7 533 230.8 532.2 232.7C531.4 234.7 529.3 237 527.9 237.1C526.5 237.2 524.3 234 523.6 233.4C522.9 232.8 523.8 232.1 523.6 233.4C523.4 234.7 523.2 239.2 522.2 241.1C521.3 243 519.1 245 517.8 244.8C516.5 244.5 515 240.6 514.4 239.8C513.8 238.9 514.8 238.5 514.4 239.8C514 241.1 513.3 245.9 512.1 247.7C511 249.5 508.7 251.1 507.6 250.6C506.4 250.1 505.6 245.5 505.2 244.5C504.8 243.5 505.7 243.2 505.2 244.5C504.7 245.8 503.3 250.7 502.1 252.4C500.8 254.1 498.5 255.3 497.6 254.5C496.6 253.7 496.5 248.6 496.2 247.4C496 246.2 496.9 246.1 496.2 247.4C495.6 248.7 493.7 253.7 492.3 255.2C491 256.7 488.7 257.5 488 256.4C487.2 255.2 487.8 249.8 487.7 248.5C487.7 247.1 488.5 247.2 487.7 248.5C487 249.7 484.6 254.6 483.1 255.9C481.7 257.1 479.6 257.5 479 256.1C478.5 254.8 479.7 249 479.9 247.6"/><path d="M499.8 152C499.3 147.9 497 146.4 495.1 146.8C491.3 147.4 486.5 152.2 484.5 157C483 160.8 484.1 165.6 487.4 166.5C489.3 167.1 491.2 166.4 492.5 165.8M495.2 147.4C493.8 152.2 490.8 158.4 486 163.7"/><path d="M522.1 128.2C521.6 124.2 519.2 122.7 517.3 123C513.5 123.6 508.8 128.5 506.8 133.2C505.2 137 506.4 141.8 509.6 142.8C511.5 143.4 513.4 142.6 514.7 142M517.4 123.6C516.1 128.5 513 134.6 508.3 139.9"/><path d="M546 124.1C545.5 120.1 543.1 118.6 541.2 118.9C537.4 119.5 532.7 124.4 530.7 129.1C529.2 132.9 530.3 137.8 533.5 138.7C535.4 139.3 537.3 138.5 538.7 137.9M541.3 119.5C540 124.4 536.9 130.5 532.2 135.9"/><path d="M556.8 143.5C556.4 139.5 554 138 552.1 138.4C548.3 138.9 543.5 143.8 541.5 148.5C540 152.3 541.2 157.2 544.4 158.1C546.3 158.7 548.2 157.9 549.5 157.4M552.2 138.9C550.9 143.8 547.8 150 543.1 155.3"/><path d="M549.8 174.9C549.3 170.9 546.9 169.3 545 169.7C541.2 170.3 536.5 175.1 534.5 179.9C533 183.7 534.1 188.5 537.3 189.5C539.2 190.1 541.1 189.3 542.5 188.7M545.1 170.3C543.8 175.1 540.7 181.3 536 186.6"/><path d="M522.3 206.9C521.8 202.9 519.5 201.3 517.6 201.7C513.8 202.3 509 207.1 507 211.9C505.5 215.7 506.6 220.5 509.9 221.5C511.8 222 513.7 221.3 515 220.7M517.7 202.3C516.3 207.1 513.3 213.3 508.5 218.6"/><path d="M496.7 208.5C496.2 204.5 493.8 203 491.9 203.3C488.1 203.9 483.4 208.8 481.4 213.5C479.9 217.3 481 222.2 484.2 223.1C486.1 223.7 488 222.9 489.4 222.3M492 203.9C490.7 208.8 487.7 214.9 482.9 220.3"/><path d="M488.7 184.6C488.3 180.6 485.9 179.1 484 179.4C480.2 180 475.4 184.9 473.4 189.6C471.9 193.4 473.1 198.3 476.3 199.2C478.2 199.8 480.1 199 481.4 198.4M484.1 180C482.8 184.9 479.7 191 475 196.4"/><path d="M526.2 145.5C524.1 146 517.4 145.8 513.3 148.8C509.2 151.7 504.4 158.4 501.7 163.3C499 168.2 497.5 173.1 497 178C496.5 182.9 498.5 190.1 498.8 192.5"/><path d="M501.7 195.4C503.1 195.9 507.5 198 510.4 198.3C513.3 198.6 516.1 198.6 519 197.2C521.9 195.8 525.3 191.9 528 190C530.7 188.1 533.8 186.2 535 185.5"/><path d="M521.5 152.2C523 151.9 528.3 149.9 530.8 150C533.3 150.1 535.1 151.3 536.7 152.8C538.3 154.3 539.6 155.6 540.2 159.2C540.8 162.9 540.3 171.4 540.2 175C540.1 178.6 539.7 179.8 539.6 180.8"/><path d="M502.2 185.5C502.4 186.1 502.7 187.8 503 189C503.3 190.2 503.8 191.9 504 192.5"/><path d="M525 155.2C523.9 155.9 519.9 157.1 518.6 159.2C517.3 161.4 518.4 165.2 517.4 168C516.4 170.8 513.2 173.5 512.8 176.2C512.3 178.9 513.5 182.6 514.5 184.3C515.5 186.1 518 185 518.6 186.7C519.2 188.4 517.1 193.6 518 194.2C518.9 194.9 522.6 192 523.8 190.8C525 189.5 524.8 187.4 525 186.7"/><path d="M520.3 179.7C520.6 178.8 521.2 175.9 522 174C522.8 172.1 524.3 170.1 525 168C525.7 165.9 526.7 163.3 526.2 161.6C525.7 159.9 522.7 158.6 522 158"/><path d="M527.3 163.3C527.8 164.1 529.5 166.1 530 168C530.5 169.9 530.2 173.8 530.2 175"/><path d="M526.5 177L561.8 197.2" stroke-width="1.3"/><path d="M432.5 128.8C433.1 126.2 434.7 123.2 436.2 121.2C437.8 119.3 440 117.8 441.9 117.1C443.8 116.3 445.6 116.7 447.5 116.8C449.4 116.8 451.2 117 453.1 117.5C455 118 457.2 118.5 458.8 119.8C460.2 121 461.5 122.9 462.1 125C462.7 127.1 463.1 129.7 462.5 132.5C461.9 135.3 460.6 139.4 458.8 141.9C456.9 144.4 453.8 146.4 451.2 147.5C448.8 148.6 445.9 149.2 443.8 148.6C441.6 148 440 145.8 438.1 143.8C436.2 141.7 433.4 138.8 432.5 136.2C431.6 133.8 431.9 131.2 432.5 128.8Z" stroke-width="2.0"/><path d="M447.5 122.4C446.7 123.2 443.9 125.4 442.5 127C441.1 128.6 439.7 130.3 439 132C438.3 133.7 438.1 135.4 438.1 137C438.1 138.6 438.6 140.1 439 141.5C439.4 142.9 440.5 144.6 440.8 145.2" stroke-width="1.9"/><path d="M436.3 133.5C436.8 132.2 437.9 128 439 126C440.1 124 442 122.3 442.6 121.6" stroke-width="1.7"/><path d="M442 118.5C442.5 118.2 444.2 118 445 118.2C445.8 118.4 447.1 119.1 447 119.5C446.9 119.9 445.3 120.4 444.5 120.5C443.7 120.6 442.4 120.3 442 120C441.6 119.7 441.5 118.8 442 118.5Z" stroke-width="1.5"/><path d="M433 134C433.5 134.2 435.3 134.2 436 135C436.7 135.8 437.2 138 437 138.5C436.8 139 434.9 138.1 434.5 138" stroke-width="1.5"/><path d="M447.5 122.4C448.1 122.1 449.8 120.9 451 120.5C452.2 120.1 454.3 120.1 455 120" stroke-width="1.5"/><path d="M457.8 130.3C457.4 127 455.5 125.7 453.9 126C450.8 126.5 446.9 130.5 445.3 134.4C444 137.5 445 141.5 447.6 142.3C449.2 142.7 450.7 142.1 451.8 141.6M454 126.5C452.9 130.5 450.4 135.6 446.5 139.9"/><path d="M451.8 126.8C451.5 127.3 450.7 128.6 450 130C449.3 131.4 448.2 134 447.5 135.5C446.8 137 446.2 138.4 446 139" stroke-width="1.4"/><path d="M491 66C491.1 65.4 490.7 63.2 491.5 62.5C492.3 61.8 494.4 61.4 496 61.5C497.6 61.6 500.1 62.2 501 63C501.9 63.8 501.4 65.5 501.5 66L501.5 93.5C501.2 94.1 500.9 96.3 500 97C499.1 97.7 497.3 97.7 496 97.6C494.7 97.5 492.8 97.3 492 96.5C491.2 95.7 491.2 93.6 491 93Z"/><path d="M491.2 66C493 68.5 499 68.5 501.3 66" stroke-width="1.3"/><path d="M560.7 209.3C561.7 206.5 564 198.7 566.7 195.3C569.4 191.9 573.9 189.6 576.7 188.7C579.5 187.8 580.9 188.8 583.3 190C585.7 191.2 589.6 194 591.3 196C593 198 593.3 199.3 593.3 202C593.3 204.7 592.7 209 591.3 212C589.9 215 587.1 217.9 584.7 220C582.3 222.1 579.2 224.1 576.7 224.7C574.2 225.2 572.2 224.3 570 223.3C567.8 222.3 564.8 220.6 563.3 218.7C561.8 216.8 561.1 213.6 560.7 212C560.3 210.4 559.7 212.1 560.7 209.3Z"/><path d="M581.5 194.3C582.2 194.1 584.4 192.7 586 193C587.6 193.3 590.2 195.5 591 196" stroke-width="1.5"/><path d="M568 216C568.1 216.7 568.3 218.8 568.5 220C568.7 221.2 568.9 222.5 569 223" stroke-width="1.5"/><path d="M586.8 205.7C586.4 202.3 584.4 201 582.8 201.3C579.6 201.8 575.6 205.9 573.9 209.9C572.6 213.1 573.6 217.2 576.3 218C577.9 218.5 579.5 217.8 580.6 217.3M582.9 201.8C581.8 205.9 579.2 211.1 575.2 215.6"/><path d="M647.5 257.8C645.2 256.3 636.2 251.4 633.5 249C630.8 246.6 631.4 245.5 631.5 243.5C631.6 241.5 632.6 238.5 634 237C635.4 235.5 639 234.9 640 234.5"/><path d="M640 234.5L655 242.75"/><path d="M636 236.5C633 239.5 632.5 245.5 635 249.5M639 238.1C636 241.1 635.5 247.1 638 251.1M642 239.7C639 242.7 638.5 248.7 641 252.7M645 241.3C642 244.3 641.5 250.3 644 254.3M648 242.9C645 245.9 644.5 251.9 647 255.9M651 244.5C648 247.5 647.5 253.5 650 257.5" stroke-width="1.6"/><path d="M655 242.8C654.3 243.5 652.1 245.3 651 247C649.9 248.7 649.1 251.1 648.5 253C647.9 254.9 647.7 257.6 647.5 258.5" stroke-width="1.6"/><path d="M655 242.75L661 242L686.5 257.75"/><path d="M647.5 258.5L676 275.75"/><path d="M658.5 248.5C658.3 248.1 657.2 246.8 657.5 246C657.8 245.2 658.9 244.2 660 244C661.1 243.8 663.2 244.3 664 245C664.8 245.7 665.5 247.2 665 248C664.5 248.8 662.1 249.4 661 249.5C659.9 249.6 658.9 248.7 658.5 248.5" stroke-width="1.5"/><path d="M676.8 275C677 273.7 677.6 269.2 678.5 267C679.4 264.8 680.8 263 682 261.5C683.2 260 684.5 258.8 686 258C687.5 257.2 689.3 257 691 257C692.7 257 694.6 257.4 696 258C697.4 258.6 698.2 259.3 699.2 260.8C700.3 262.2 701.8 265.8 702.2 266.8"/><path d="M676.8 275C676.9 276.2 676.6 280.8 677.5 282.5C678.4 284.2 680.5 284.9 682 285.5C683.5 286.1 685 286.2 686.5 286.2C688 286.2 690.2 285.6 691 285.5"/><path d="M689.5 271.2C690.1 270.8 691.6 269 693 268.5C694.4 268 697 268.3 697.8 268.2" stroke-width="1.5"/><path d="M688 276.5C688.1 277 688.2 278.5 688.5 279.5C688.8 280.5 689.3 282 689.5 282.5" stroke-width="1.5"/><path d="M691 285.5C690.8 284.2 689.5 280.4 690 278C690.5 275.6 692 272.8 694 271C696 269.2 700.9 268.1 702.2 267.5" stroke-width="1.5"/><path d="M691.5 260L697 259.5M680 282L679.5 279" stroke-width="1.4"/><path d="M702.25 267.5L793 319"/><path d="M691.75 285.5L783 338"/><path d="M587.3 238C586.8 233.6 588.4 224.8 590 220C591.6 215.2 593.9 212.4 596.7 209.3C599.5 206.2 603.4 203 606.7 201.3C610 199.6 613.9 199.2 616.7 199.3C619.5 199.4 620.5 200.4 623.3 202C626.1 203.6 631.1 206.6 633.3 208.7C635.5 210.8 636.1 212.3 636.7 214.7C637.3 217.1 637.2 220 636.7 223.3C636.2 226.6 635.7 231 634 234.7C632.3 238.4 629.6 242.4 626.7 245.3C623.8 248.2 620 250.7 616.7 252C613.4 253.3 609.5 253.5 606.7 253.3C603.9 253.1 602.3 251.8 600 250.7C597.7 249.6 594.8 248.8 592.7 246.7C590.6 244.6 587.8 242.4 587.3 238Z"/><ellipse cx="618.2" cy="229.3" rx="15.5" ry="24.7" transform="rotate(26 618.2 229.3)" stroke-width="2.0"/><ellipse cx="618.2" cy="229.3" rx="14.4" ry="23" transform="rotate(26 618.2 229.3)" stroke-width="1.3"/><ellipse cx="618.2" cy="229.3" rx="12.9" ry="20.5" transform="rotate(26 618.2 229.3)" stroke-width="2.4"/><path d="M629.5 237.4a1.1 1.5 0 1 0 -2.2 0a1.1 1.5 0 1 0 2.2 0M623.9 244.2a1.1 1.5 0 1 0 -2.2 0a1.1 1.5 0 1 0 2.2 0M617.4 248a1.1 1.5 0 1 0 -2.2 0a1.1 1.5 0 1 0 2.2 0M611.3 248.1a1.1 1.5 0 1 0 -2.2 0a1.1 1.5 0 1 0 2.2 0M606.8 244.5a1.1 1.5 0 1 0 -2.2 0a1.1 1.5 0 1 0 2.2 0M604.7 237.9a1.1 1.5 0 1 0 -2.2 0a1.1 1.5 0 1 0 2.2 0M605.6 229.5a1.1 1.5 0 1 0 -2.2 0a1.1 1.5 0 1 0 2.2 0M609.1 221.2a1.1 1.5 0 1 0 -2.2 0a1.1 1.5 0 1 0 2.2 0M614.7 214.4a1.1 1.5 0 1 0 -2.2 0a1.1 1.5 0 1 0 2.2 0M621.2 210.6a1.1 1.5 0 1 0 -2.2 0a1.1 1.5 0 1 0 2.2 0M627.3 210.5a1.1 1.5 0 1 0 -2.2 0a1.1 1.5 0 1 0 2.2 0M631.8 214.1a1.1 1.5 0 1 0 -2.2 0a1.1 1.5 0 1 0 2.2 0M633.9 220.7a1.1 1.5 0 1 0 -2.2 0a1.1 1.5 0 1 0 2.2 0M633 229.1a1.1 1.5 0 1 0 -2.2 0a1.1 1.5 0 1 0 2.2 0" fill="#fff" stroke="none"/><ellipse cx="618.2" cy="229.3" rx="10.8" ry="17.8" transform="rotate(26 618.2 229.3)" stroke-width="1.8"/><path d="M625.3 225.3C624.8 221.2 622.4 219.7 620.5 220.1C616.7 220.7 612 225.5 610 230.3C608.5 234.1 609.6 238.9 612.8 239.9C614.7 240.4 616.6 239.7 618 239.1M620.6 220.7C619.3 225.5 616.2 231.7 611.5 237"/><path d="M822.6 348.9 L823.1 350.1 L822.6 350.7 L822.2 351.4 L821.8 352 L821.4 352.6 L820.9 353.2 L820.5 353.8 L820 354.4 L819.2 354.5 L817.9 354.1 L816.8 353.6 L815.8 353.2 L815.1 353.3 L814.7 353.7 L814.4 354.1 L813.9 354.5 L813.5 354.9 L813.5 356.3 L813.6 357.9 L813.6 359.6 L813.5 361.2 L812.9 361.7 L812.4 362.1 L811.9 362.5 L811.3 363 L810.8 363.4 L810.2 363.8 L809.7 364.1 L809 363.9 L808.3 362.7 L807.7 361.5 L807.1 360.4 L806.7 360.1 L806.2 360.3 L805.8 360.6 L805.3 360.8 L804.9 361 L804.4 362.4 L803.8 364.1 L803.1 366 L802.4 367.9 L801.9 368 L801.3 368.2 L800.8 368.4 L800.2 368.5 L799.7 368.6 L799.1 368.8 L798.6 368.8 L798.2 368.4 L798.2 366.7 L798.2 365 L798.2 363.4 L798 362.7 L797.6 362.7 L797.2 362.7 L796.8 362.7 L796.5 362.6 L795.6 363.7 L794.5 365.3 L793.3 367 L792.1 368.7 L791.6 368.6 L791.1 368.5 L790.7 368.3 L790.2 368.2 L789.8 368 L789.4 367.8 L788.9 367.6 L788.8 367 L789.4 365.1 L790.1 363.2 L790.7 361.5 L791 360.5 L790.7 360.3 L790.4 360 L790.1 359.8 L789.9 359.5 L788.9 360.1 L787.5 361.2 L786 362.4 L784.5 363.5 L784.1 363.2 L783.8 362.8 L783.6 362.4 L783.3 362 L783.1 361.5 L782.9 361.1 L782.6 360.6 L782.7 359.9 L783.9 358.2 L785.1 356.5 L786.2 355 L786.8 354 L786.7 353.6 L786.6 353.2 L786.5 352.7 L786.4 352.3 L785.6 352.4 L784.2 352.7 L782.7 353.1 L781.2 353.5 L780.9 353 L780.9 352.4 L780.9 351.8 L780.9 351.2 L780.9 350.6 L780.9 349.9 L780.9 349.3 L781.1 348.6 L782.6 347.4 L784.1 346.3 L785.5 345.3 L786.4 344.4 L786.5 343.9 L786.6 343.4 L786.7 342.9 L786.8 342.3 L786.3 341.9 L785.2 341.5 L784 341.1 L782.8 340.6 L782.6 339.9 L782.9 339.3 L783.1 338.6 L783.3 337.9 L783.6 337.2 L783.8 336.5 L784.1 335.8 L784.4 335.2 L785.9 334.7 L787.4 334.4 L788.8 334 L789.9 333.7 L790.1 333.2 L790.4 332.7 L790.7 332.1 L791 331.6 L790.8 330.9 L790.2 329.8 L789.5 328.7 L788.9 327.4 L789 326.6 L789.4 326 L789.8 325.3 L790.2 324.7 L790.7 324.1 L791.1 323.5 L791.6 322.9 L792 322.3 L793.2 322.7 L794.5 323.2 L795.6 323.6 L796.5 323.9 L796.9 323.5 L797.2 323.1 L797.6 322.7 L798.1 322.3 L798.3 321.4 L798.2 320 L798.2 318.3 L798.2 316.5 L798.6 315.6 L799.1 315.1 L799.7 314.7 L800.2 314.3 L800.8 313.8 L801.3 313.4 L801.9 313.1 L802.4 312.7 L803.1 313.7 L803.8 314.9 L804.4 316.1 L804.9 317 L805.4 316.8 L805.8 316.5 L806.2 316.3 L806.7 316.1 L807.1 315.4 L807.7 313.8 L808.3 311.9 L809 310 L809.7 309 L810.2 308.9 L810.8 308.7 L811.3 308.6 L811.9 308.4 L812.4 308.3 L812.9 308.2 L813.5 308.1 L813.6 309.5 L813.6 311.2 L813.6 312.8 L813.6 314.2 L814 314.3 L814.4 314.3 L814.8 314.3 L815.1 314.4 L815.7 313.9 L816.7 312.5 L817.9 310.9 L819.1 309.2 L820 308.3 L820.5 308.5 L820.9 308.6 L821.4 308.8 L821.8 308.9 L822.2 309.1 L822.6 309.3 L823.1 309.5 L822.7 311 L822 312.9 L821.4 314.7 L820.8 316.2 L821 316.6 L821.3 316.8 L821.5 317.1 L821.8 317.3 L822.3 317.3 L823.6 316.3 L825 315.2 L826.5 314 L827.6 313.6 L827.8 314 L828.1 314.4 L828.4 314.8 L828.6 315.2 L828.8 315.7 L829.1 316.1 L829.3 316.6 L828.5 317.9 L827.3 319.6 L826.1 321.2 L825.1 322.6 L825 323.2 L825.1 323.6 L825.2 324.1 L825.3 324.5 L825.6 324.8 L826.9 324.5 L828.3 324.1 L829.8 323.7 L830.9 323.7 L830.9 324.3 L830.9 324.9 L830.9 325.5 L830.9 326.1 L830.9 326.8 L830.9 327.4 L830.9 328 L830 329 L828.4 330.2 L827 331.3 L825.7 332.2 L825.3 332.8 L825.2 333.3 L825.1 333.9 L825 334.4 L825 334.9 L826 335.3 L827.2 335.7 L828.4 336.1 L829.3 336.7 L829 337.4 L828.8 338.1 L828.6 338.8 L828.4 339.5 L828.1 340.1 L827.8 340.8 L827.6 341.5 L826.6 342.1 L825.1 342.5 L823.6 342.8 L822.4 343.1 L821.8 343.5 L821.5 344.1 L821.3 344.6 L821 345.1 L820.7 345.7 L821.3 346.6 L821.9 347.7 L822.6 348.9Z"/><path d="M786.9 357.6 L788 356.1 L789.1 354.7 L789.9 353.5 L789.8 353.1 L789.7 352.8 L789.6 352.4 L789.5 352 L789 351.9 L787.9 352.2 L786.5 352.6 L785.2 352.9 L784.5 352.7 L784.5 352.2 L784.5 351.6 L784.5 351.1 L784.5 350.5 L784.5 350 L784.5 349.4 L784.5 348.8 L785.6 347.9 L786.9 346.8 L788.2 345.9 L789.3 345.1 L789.6 344.5 L789.6 344.1 L789.7 343.6 L789.8 343.1 L789.7 342.7 L788.8 342.4 L787.7 342 L786.6 341.6 L786 341 L786.2 340.4 L786.4 339.8 L786.6 339.2 L786.8 338.6 L787 338 L787.3 337.4 L787.5 336.8 L788.4 336.3 L789.8 335.9 L791.1 335.6 L792.2 335.4 L792.7 335 L793 334.5 L793.2 334 L793.5 333.5 L793.7 333.1 L793.2 332.2 L792.6 331.2 L792 330.1 L791.6 329.1 L791.9 328.5 L792.3 327.9 L792.7 327.4 L793.1 326.8 L793.5 326.3 L793.9 325.8 L794.3 325.2 L795 325.1 L796.1 325.5 L797.2 325.9 L798.1 326.3 L798.7 326.2 L799 325.9 L799.4 325.5 L799.7 325.1 L800.1 324.8 L800.1 323.6 L800.1 322.2 L800.1 320.7 L800.1 319.1 L800.6 318.7 L801.1 318.3 L801.6 317.9 L802.1 317.5 L802.6 317.2 L803 316.8 L803.5 316.5 L804.1 316.5 L804.7 317.5 L805.3 318.6 L805.8 319.6 L806.2 320.1 L806.6 319.9 L807 319.7 L807.4 319.5 L807.8 319.3 L808.3 318.3 L808.8 316.8 L809.4 315.1 L810 313.4 L810.5 312.9 L811 312.8 L811.5 312.6 L812 312.5 L812.5 312.4 L813 312.3 L813.5 312.2 L813.9 312.2 L814 313.8 L813.9 315.3" stroke-width="1.4"/><path d="M802.5 357.5C801.6 357 798.3 355.8 797 354.5C795.7 353.2 795 351.6 794.5 350C794 348.4 794.1 346.7 794.2 345C794.3 343.3 794.5 341.7 795 340C795.5 338.3 796.2 336.5 797 335C797.8 333.5 798.9 332.2 800 331C801.1 329.8 802.2 328.6 803.5 327.5C804.8 326.4 806.2 325.2 807.5 324.5C808.8 323.8 809.8 323.3 811 323C812.2 322.7 813.8 322.4 815 322.5C816.2 322.6 817.2 323.1 818 323.5C818.8 323.9 819.3 324.2 820 325C820.7 325.8 821.7 327.5 822 328"/><path d="M796.5 352.5C796.9 353 797.9 354.6 799 355.5C800.1 356.4 802.3 357.6 803 358" stroke-width="1.4"/><path d="M816 326C816.5 326.1 818.1 325.9 819 326.5C819.9 327.1 821.1 329 821.5 329.5" stroke-width="1.4"/><path d="M815.5 329.5L820 328.5" stroke-width="1.3"/><path d="M808 341C808.8 340.2 810.8 337.2 812.5 336C814.2 334.8 816.6 334 818.5 334C820.4 334 822.4 335.1 824 336C825.6 336.9 826.5 338.5 828 339.5C829.5 340.5 831.8 340.9 833 342C834.2 343.1 835 344.7 835.5 346C836 347.3 836.2 348.3 836 350C835.8 351.7 835.4 354.3 834.5 356C833.6 357.7 832.1 359.2 830.5 360C828.9 360.8 826.6 360.6 825 360.5C823.4 360.4 822.7 360.2 821 359.5C819.3 358.8 817 357.6 815 356.5C813 355.4 810.3 354.4 809 353C807.7 351.6 807.2 350 807 348C806.8 346 807.8 342.2 808 341" fill="#fff"/><path d="M832 349.5C831.6 349.4 830.2 348.8 829.5 349C828.8 349.2 827.9 350.2 827.5 351C827.1 351.8 826.8 353.2 827 354C827.2 354.8 828.7 355.7 829 356" stroke-width="1.5"/><path d="M829 343L832.5 343.5M821 357L822 360" stroke-width="1.3"/><path d="M808 359L810.5 361.5L813 359" stroke-width="1.3"/><path d="M879.9 350.9Q882.2 355.7 882.2 360.9A4.2 4.2 0 0 0 890.4 359.1Q888.1 354.3 888.1 349.1A4.2 4.2 0 0 0 879.9 350.9Z" stroke-width="1.9" fill="#fff"/><path d="M882.2 360.9Q884.5 365.7 884.5 370.9A4.2 4.2 0 0 0 892.7 369.1Q890.4 364.3 890.4 359.1A4.2 4.2 0 0 0 882.2 360.9Z" stroke-width="1.9" fill="#fff"/><path d="M884.4 370.6Q886.3 375.4 885.8 380.6A4.2 4.2 0 0 0 894.2 379.4Q892.3 374.6 892.8 369.4A4.2 4.2 0 0 0 884.4 370.6Z" stroke-width="1.9" fill="#fff"/><path d="M886.2 350A2.2 2.2 0 1 0 881.8 350A2.2 2.2 0 1 0 886.2 350M888.5 360A2.2 2.2 0 1 0 884.1 360A2.2 2.2 0 1 0 888.5 360M890.8 370A2.2 2.2 0 1 0 886.4 370A2.2 2.2 0 1 0 890.8 370M892.2 380A2.2 2.2 0 1 0 887.8 380A2.2 2.2 0 1 0 892.2 380" stroke-width="1.6"/><path d="M855 333.5C855.8 333.3 858.5 332.2 860 332.5C861.5 332.8 863.4 333.8 864 335C864.6 336.2 864.5 338.8 863.5 340C862.5 341.2 859.6 342.3 858 342.5C856.4 342.7 854.8 341.9 854 341C853.2 340.1 853.3 338.2 853.5 337C853.7 335.8 854.8 334.1 855 333.5" stroke-width="1.9"/><path d="M865.5 337Q871.1 339 875.5 343A4.3 4.3 0 0 0 879.9 335.6Q874.3 333.6 869.9 329.6A4.3 4.3 0 0 0 865.5 337Z" stroke-width="2.0" fill="#fff"/><path d="M876.2 343.3Q880.3 343.6 883.5 346A4.3 4.3 0 0 0 886.5 338Q882.4 337.7 879.2 335.3A4.3 4.3 0 0 0 876.2 343.3Z" stroke-width="2.0" fill="#fff"/><path d="M882 345Q885.8 347.2 888 351A4.3 4.3 0 0 0 894 345Q890.2 342.8 888 339A4.3 4.3 0 0 0 882 345Z" stroke-width="2.0" fill="#fff"/><path d="M887.2 350.1Q890.3 353.1 891.2 357.4A4.3 4.3 0 0 0 898.8 353.2Q895.7 350.2 894.8 345.9A4.3 4.3 0 0 0 887.2 350.1Z" stroke-width="2.0" fill="#fff"/><path d="M890.9 356.5Q893.4 360.9 893.6 365.9A4.3 4.3 0 0 0 901.8 363.5Q899.3 359.1 899.1 354.1A4.3 4.3 0 0 0 890.9 356.5Z" stroke-width="2.0" fill="#fff"/><path d="M893.4 364.9Q894.9 370.5 894 376.2A4.3 4.3 0 0 0 902.6 375.8Q901.1 370.2 902 364.5A4.3 4.3 0 0 0 893.4 364.9Z" stroke-width="2.0" fill="#fff"/><path d="M894.1 376.8Q896.3 381.6 896.1 386.8A4.3 4.3 0 0 0 904.5 385.2Q902.3 380.4 902.5 375.2A4.3 4.3 0 0 0 894.1 376.8Z" stroke-width="2.0" fill="#fff"/><path d="M869.9 347Q874.1 344 879.3 343A4.0 4.0 0 0 0 876.1 335.6Q871.9 338.6 866.7 339.6A4.0 4.0 0 0 0 869.9 347Z" stroke-width="2.0" fill="#fff"/><path d="M863.7 333.5Q865.1 338.5 864.3 343.5A4.0 4.0 0 0 0 872.3 343.1Q870.9 338.1 871.7 333.1A4.0 4.0 0 0 0 863.7 333.5Z" stroke-width="2.0" fill="#fff"/><path d="M869.9 343.3A1.6 1.6 0 1 0 866.7 343.3A1.6 1.6 0 1 0 869.9 343.3M869.3 333.3A1.6 1.6 0 1 0 866.1 333.3A1.6 1.6 0 1 0 869.3 333.3M879.3 339.3A1.6 1.6 0 1 0 876.1 339.3A1.6 1.6 0 1 0 879.3 339.3M886.6 342A1.6 1.6 0 1 0 883.4 342A1.6 1.6 0 1 0 886.6 342M892.6 348A1.6 1.6 0 1 0 889.4 348A1.6 1.6 0 1 0 892.6 348M896.6 355.3A1.6 1.6 0 1 0 893.4 355.3A1.6 1.6 0 1 0 896.6 355.3M899.3 364.7A1.6 1.6 0 1 0 896.1 364.7A1.6 1.6 0 1 0 899.3 364.7M899.9 376A1.6 1.6 0 1 0 896.7 376A1.6 1.6 0 1 0 899.9 376M901.9 386A1.6 1.6 0 1 0 898.7 386A1.6 1.6 0 1 0 901.9 386" stroke-width="1.8"/><path d="M828 486Q829.5 491.4 828.5 496.9A4.5 4.5 0 0 0 837.5 496.5Q836 491.1 837 485.6A4.5 4.5 0 0 0 828 486Z" stroke-width="2.0" fill="#fff"/><path d="M828.5 496.8Q829.9 502.2 828.8 507.6A4.5 4.5 0 0 0 837.8 507.4Q836.4 502 837.5 496.6A4.5 4.5 0 0 0 828.5 496.8Z" stroke-width="2.0" fill="#fff"/><path d="M828.8 507.5Q830.1 512.9 828.8 518.3A4.5 4.5 0 0 0 837.8 518.3Q836.5 512.9 837.8 507.5A4.5 4.5 0 0 0 828.8 507.5Z" stroke-width="2.0" fill="#fff"/><path d="M829.1 519.8Q832.4 525.2 833.3 531.5A4.5 4.5 0 0 0 841.7 528.5Q838.4 523.1 837.5 516.8A4.5 4.5 0 0 0 829.1 519.8Z" stroke-width="2.0" fill="#fff"/><path d="M835.1 485.8A2.6 2.6 0 1 0 829.9 485.8A2.6 2.6 0 1 0 835.1 485.8M835.6 496.7A2.6 2.6 0 1 0 830.4 496.7A2.6 2.6 0 1 0 835.6 496.7M835.9 507.5A2.6 2.6 0 1 0 830.7 507.5A2.6 2.6 0 1 0 835.9 507.5M835.9 518.3A2.6 2.6 0 1 0 830.7 518.3A2.6 2.6 0 1 0 835.9 518.3M840.1 530A2.6 2.6 0 1 0 834.9 530A2.6 2.6 0 1 0 840.1 530" stroke-width="1.6"/><path d="M836.5 490.3Q838.2 496.1 837.4 502A4.3 4.3 0 0 0 846 501.4Q844.3 495.6 845.1 489.7A4.3 4.3 0 0 0 836.5 490.3Z" stroke-width="2.0" fill="#fff"/><path d="M837.4 501.7Q838.6 507.1 837.4 512.5A4.3 4.3 0 0 0 846 512.5Q844.8 507.1 846 501.7A4.3 4.3 0 0 0 837.4 501.7Z" stroke-width="2.0" fill="#fff"/><path d="M837.4 512.5Q838.6 517.9 837.4 523.3A4.3 4.3 0 0 0 846 523.3Q844.8 517.9 846 512.5A4.3 4.3 0 0 0 837.4 512.5Z" stroke-width="2.0" fill="#fff"/><path d="M837.6 524.6Q840.4 529.3 840.9 534.6A4.3 4.3 0 0 0 849.1 532Q846.3 527.3 845.8 522A4.3 4.3 0 0 0 837.6 524.6Z" stroke-width="2.0" fill="#fff"/><path d="M841.9 536.3Q845.7 538.4 847.7 542.2A4.3 4.3 0 0 0 853.9 536.2Q850.1 534.1 848.1 530.3A4.3 4.3 0 0 0 841.9 536.3Z" stroke-width="2.0" fill="#fff"/><path d="M849.1 543.1Q853.3 543.7 856.6 546.4A4.3 4.3 0 0 0 860 538.6Q855.8 538 852.5 535.3A4.3 4.3 0 0 0 849.1 543.1Z" stroke-width="2.0" fill="#fff"/><path d="M842.5 490A1.7 1.7 0 1 0 839.1 490A1.7 1.7 0 1 0 842.5 490M843.4 501.7A1.7 1.7 0 1 0 840 501.7A1.7 1.7 0 1 0 843.4 501.7M843.4 512.5A1.7 1.7 0 1 0 840 512.5A1.7 1.7 0 1 0 843.4 512.5M843.4 523.3A1.7 1.7 0 1 0 840 523.3A1.7 1.7 0 1 0 843.4 523.3M846.7 533.3A1.7 1.7 0 1 0 843.3 533.3A1.7 1.7 0 1 0 846.7 533.3M852.5 539.2A1.7 1.7 0 1 0 849.1 539.2A1.7 1.7 0 1 0 852.5 539.2M860 542.5A1.7 1.7 0 1 0 856.6 542.5A1.7 1.7 0 1 0 860 542.5" stroke-width="1.8"/><path d="M851 339.3L850.4 340.2L849.5 341.3L848.5 342.6L847.4 344.1L846.3 345.7L845 347.4L843.7 349.2L842.4 351L841.2 352.8L840 354.6L838.9 356.3L838 358L837.1 359.6L836.3 361.2L835.5 362.9L834.8 364.5L834.1 366.1L833.4 367.8L832.7 369.5L832.1 371.1L831.5 372.8L831 374.5L830.5 376.3L830 378L829.6 379.7L829.2 381.3L828.8 382.9L828.5 384.5L828.2 386.1L827.9 387.8L827.7 389.5L827.5 391.3L827.4 393.2L827.2 395.3L827.1 397.5M827 400L826.9 402.7L826.9 405.6M827 408.8L827.1 412.1L827.2 415.5M827.3 419L827.4 422.5L827.6 426.1L827.7 429.7L827.8 433.2L827.9 436.7L828 440L828.1 443.4L828.1 446.9L828.2 450.6L828.2 454.3L828.3 458L828.3 461.6L828.4 465.1L828.4 468.4L828.4 471.5L828.5 474.2L828.5 476.5L828.5 478.3"/><path d="M859.7 344.7L859 345.5L858.1 346.6L857.1 347.8L855.9 349.2L854.6 350.6L853.3 352.2L851.9 353.9L850.6 355.5L849.3 357.2L848.1 358.9L847 360.5L846 362L845.2 363.5L844.4 364.9L843.7 366.4L843 367.9L842.4 369.3L841.8 370.8L841.2 372.3L840.7 373.8L840.2 375.3L839.8 376.9L839.4 378.4L839 380L838.7 381.5L838.4 383L838.1 384.4L837.9 385.8L837.7 387.2L837.6 388.6L837.4 390.1L837.3 391.8L837.2 393.5L837.2 395.5L837.1 397.6M837 400L836.9 402.6M836.8 408.5L836.8 411.8M836.8 418.6L836.9 422.1L836.9 425.7L836.9 429.4L836.9 433L837 436.5L837 440L837 443.6L837.1 447.4L837.1 451.4L837.1 455.6L837.2 459.7L837.2 463.8L837.3 467.7L837.4 471.4L837.4 474.8L837.4 477.8L837.5 480.4L837.5 482.5"/><path d="M864.3 350.3L863.7 351L863 351.9L862.2 352.9L861.2 354.1L860.1 355.4L859.1 356.7L857.9 358.1L856.8 359.5L855.8 361L854.7 362.4L853.8 363.7L853 365L852.3 366.2L851.6 367.4L850.9 368.6L850.3 369.8L849.7 371L849.2 372.2L848.6 373.4L848.2 374.6L847.7 375.9L847.3 377.2L846.9 378.6L846.5 380L846.2 381.4L845.9 382.8L845.6 384.2L845.4 385.6L845.3 387L845.1 388.4L845 390L844.9 391.7L844.8 393.5L844.7 395.5L844.6 397.6M844.5 400L844.4 402.6L844.4 405.5M844.3 408.5L844.3 411.7M844.3 418.5L844.3 422.1L844.3 425.7L844.3 429.3L844.3 432.9L844.4 436.5L844.4 440L844.4 443.6L844.5 447.5L844.6 451.6L844.7 455.8L844.8 460L844.9 464.1L845 468.2L845.1 472L845.2 475.4L845.3 478.6L845.3 481.2L845.4 483.3"/><path d="M887.5 388.3L887.8 390.6L888.2 393.5L888.7 396.9L889.3 400.8L889.8 405L890.5 409.4L891.1 413.9L891.7 418.4L892.4 422.9L893 427.3L893.5 431.3L894 435M894.5 438.5L894.9 442L895.4 445.4M895.9 448.8L896.3 452.2L896.7 455.4M897.1 458.6L897.5 461.6L897.8 464.4L898.1 467.1L898.3 469.5L898.5 471.7L898.6 473.6L898.7 475.2L898.8 476.6L898.8 477.7L898.8 478.7L898.8 479.6L898.7 480.4L898.5 481.2L898.3 482L898.1 482.9L897.8 483.8L897.5 485L897.1 486.3L896.7 487.5L896.3 488.8L895.8 490.1L895.3 491.5L894.7 492.8L894.1 494.2L893.4 495.6L892.7 497.1L891.9 498.6L891 500.1L890 501.7L888.9 503.4L887.8 505.2L886.5 507L885.2 509L883.8 510.9L882.4 512.9L880.9 514.9L879.4 516.8L877.8 518.6L876.3 520.3L874.8 521.9L873.3 523.3L871.8 524.6L870.1 525.8L868.3 526.9L866.5 527.9L864.7 528.8L862.9 529.6L861.2 530.4L859.5 531.1L858 531.8L856.7 532.3L855.5 532.9L854.6 533.3"/><path d="M896.6 392.8L896.9 395.1L897.3 398L897.8 401.5L898.3 405.4L898.9 409.7L899.6 414.1L900.2 418.6L900.8 423.2L901.4 427.5L902 431.7L902.5 435.4L903 438.7L903.4 441.6L903.8 444.3M904.2 446.9L904.6 449.3L905 451.5L905.3 453.7L905.6 455.7M906 457.6L906.2 459.5L906.5 461.4L906.8 463.2L907 465L907.2 466.7L907.5 468.3L907.7 469.7L907.9 471.1L908.1 472.4L908.3 473.7L908.4 474.9L908.5 476.2L908.5 477.5L908.5 478.9L908.4 480.4L908.3 482L908.1 483.8L907.9 485.6L907.6 487.5L907.3 489.5L906.9 491.6L906.5 493.7L906 495.7L905.5 497.8L904.9 499.9L904.2 501.9L903.4 503.9L902.5 505.8L901.5 507.7L900.4 509.6L899.2 511.4L898 513.3L896.6 515.2L895.2 517L893.7 518.8L892.2 520.5L890.6 522.2L889 523.8L887.4 525.3L885.8 526.7L884.1 528L882.1 529.3L880.1 530.5L877.9 531.7L875.7 532.8L873.5 533.8L871.4 534.8L869.3 535.6L867.5 536.4L865.8 537.1L864.4 537.8L863.3 538.3"/><path d="M904 388.3L904.4 390.9L904.8 394.3L905.4 398.3L906 402.8L906.7 407.7L907.4 412.8L908.1 418L908.9 423.1L909.6 428.1L910.2 432.8L910.8 437L911.3 440.6M911.7 443.7L912.2 446.5M912.6 449L912.9 451.3L913.3 453.4M913.6 455.4L913.9 457.3M914.1 459.2L914.4 461L914.6 462.9M914.8 464.9L915 467L915.2 469.2L915.3 471.5L915.5 473.7L915.7 476L915.8 478.2L915.9 480.5L915.9 482.7L916 484.9L915.9 487.1L915.8 489.2L915.7 491.3L915.5 493.3L915.3 495.2L915 497.1L914.7 498.9L914.4 500.7L914 502.4L913.6 504.1L913.1 505.8L912.5 507.4L911.8 509.1L911.1 510.8L910.2 512.5L909.2 514.2L908.1 516L906.9 517.8L905.5 519.6L904.1 521.4L902.6 523.3L901 525.1L899.3 526.9L897.6 528.6L895.8 530.4L893.9 532L892 533.5L890 535L887.8 536.4L885.4 537.8L882.8 539.1L880.1 540.4L877.2 541.6L874.4 542.8L871.7 543.9L869.1 544.9L866.6 545.8L864.5 546.7L862.7 547.4L861.2 548"/><ellipse cx="912.5" cy="524.8" rx="8.6" ry="15" transform="rotate(28 912.5 524.8)"/><ellipse cx="912.5" cy="524.8" rx="6.4" ry="12.6" transform="rotate(28 912.5 524.8)" stroke-width="1.4"/><path d="M972.3 559.8 L972.4 560.7 L972.1 561.3 L971.7 561.9 L971.3 562.5 L971 563.1 L970.6 563.7 L970.2 564.3 L969.8 564.9 L968.9 565 L967.2 564.4 L965.7 563.8 L964.3 563.3 L963.8 563.5 L963.4 563.9 L963.1 564.4 L962.7 564.8 L962.6 565.6 L963.1 567.2 L963.7 569.1 L964.3 571.1 L964.2 572.2 L963.7 572.7 L963.3 573.2 L962.8 573.7 L962.3 574.2 L961.9 574.7 L961.4 575.1 L960.9 575.6 L960.1 575.4 L958.9 574.1 L957.8 572.7 L956.9 571.6 L956.3 571.5 L955.9 571.8 L955.5 572.2 L955.1 572.5 L954.8 573.2 L954.8 575.1 L954.8 577.4 L954.7 579.8 L954.4 581.1 L953.9 581.4 L953.3 581.8 L952.8 582.1 L952.3 582.4 L951.8 582.8 L951.3 583.1 L950.7 583.4 L950.2 583 L949.5 581 L949 579.1 L948.5 577.5 L948.1 577 L947.7 577.2 L947.2 577.4 L946.8 577.6 L946.4 578.2 L945.8 580.2 L945.2 582.6 L944.5 585.2 L943.9 586.5 L943.4 586.7 L942.9 586.9 L942.4 587 L941.8 587.2 L941.3 587.3 L940.8 587.4 L940.3 587.5 L939.9 587 L939.9 584.6 L940 582.3 L940 580.3 L939.8 579.6 L939.4 579.6 L939 579.6 L938.6 579.7 L938.1 580 L937.1 582 L936 584.3 L934.8 586.8 L933.9 588.1 L933.4 588 L932.9 588 L932.4 588 L932 587.9 L931.5 587.8 L931.1 587.7 L930.6 587.6 L930.4 587 L931 584.4 L931.7 582 L932.3 579.8 L932.3 578.8 L932 578.7 L931.6 578.6 L931.3 578.4 L930.9 578.5 L929.5 580.2 L928 582.2 L926.3 584.4 L925.2 585.5 L924.8 585.3 L924.4 585 L924 584.8 L923.7 584.5 L923.3 584.3 L922.9 584 L922.6 583.7 L922.5 583 L923.7 580.5 L924.9 578.1 L926 576 L926.3 574.9 L926.1 574.6 L925.9 574.3 L925.6 574 L925.3 573.9 L923.8 575.1 L922 576.6 L920 578.3 L918.7 579.1 L918.4 578.7 L918.2 578.3 L917.9 577.9 L917.7 577.4 L917.5 577 L917.3 576.5 L917 576.1 L917.1 575.4 L918.7 573.2 L920.4 571.1 L921.8 569.2 L922.5 568.1 L922.3 567.7 L922.2 567.3 L922.1 566.9 L921.9 566.5 L920.4 567.2 L918.5 568.1 L916.5 569.1 L915 569.5 L914.9 568.9 L914.8 568.4 L914.8 567.8 L914.7 567.2 L914.6 566.7 L914.6 566.1 L914.5 565.5 L914.6 564.8 L916.6 563.2 L918.5 561.6 L920.2 560.2 L921.1 559.2 L921.1 558.7 L921.1 558.2 L921.1 557.8 L921.1 557.3 L919.7 557.3 L917.9 557.5 L916 557.7 L914.6 557.6 L914.7 556.9 L914.7 556.3 L914.8 555.6 L914.9 555 L915 554.3 L915.1 553.7 L915.2 553.1 L915.4 552.4 L917.4 551.4 L919.4 550.5 L921.2 549.7 L922.3 549 L922.4 548.5 L922.6 548 L922.7 547.4 L922.9 546.9 L921.7 546.4 L920.2 545.8 L918.6 545.2 L917.4 544.5 L917.6 543.8 L917.9 543.2 L918.1 542.5 L918.3 541.9 L918.6 541.2 L918.8 540.6 L919.1 539.9 L919.4 539.3 L921.3 539 L923.2 538.9 L924.9 538.8 L926 538.5 L926.3 538 L926.5 537.5 L926.8 537 L927 536.5 L926.3 535.5 L925.2 534.3 L924.1 532.9 L923.2 531.6 L923.5 531 L923.9 530.4 L924.3 529.8 L924.7 529.2 L925 528.6 L925.4 528 L925.8 527.4 L926.2 526.8 L927.8 527.3 L929.4 527.9 L930.8 528.5 L931.9 528.8 L932.2 528.3 L932.5 527.9 L932.9 527.4 L933.2 527 L932.9 525.7 L932.4 523.9 L931.8 522 L931.4 520.1 L931.8 519.6 L932.3 519.1 L932.8 518.6 L933.2 518.1 L933.7 517.6 L934.2 517.1 L934.7 516.6 L935.1 516.2 L936.3 517.3 L937.4 518.6 L938.5 519.9 L939.3 520.7 L939.7 520.3 L940.1 520 L940.5 519.7 L940.9 519.3 L941 517.9 L941 515.8 L941.1 513.4 L941.2 511.1 L941.7 510.8 L942.2 510.4 L942.7 510.1 L943.2 509.7 L943.8 509.4 L944.3 509.1 L944.8 508.8 L945.3 508.5 L945.9 510 L946.5 512 L947.1 513.8 L947.5 515.1 L947.9 514.9 L948.4 514.7 L948.8 514.5 L949.2 514.3 L949.7 512.9 L950.3 510.6 L950.9 508.1 L951.6 505.5 L952.1 505.4 L952.7 505.2 L953.2 505 L953.7 504.9 L954.2 504.8 L954.7 504.6 L955.2 504.5 L955.8 504.4 L955.9 506.2 L955.8 508.6 L955.8 510.8 L955.8 512.5 L956.2 512.4 L956.6 512.4 L957 512.3 L957.4 512.3 L958.1 511.1 L959.2 508.9 L960.4 506.5 L961.7 504 L962.2 503.9 L962.7 504 L963.1 504 L963.6 504.1 L964.1 504.1 L964.5 504.2 L965 504.3 L965.4 504.4 L965.1 506.3 L964.4 508.8 L963.8 511.2 L963.3 513.1 L963.7 513.2 L964 513.4 L964.3 513.5 L964.7 513.6 L965.6 512.7 L967 510.8 L968.6 508.7 L970.3 506.6 L970.8 506.6 L971.2 506.8 L971.6 507.1 L972 507.3 L972.3 507.6 L972.7 507.9 L973 508.2 L973.4 508.5 L972.7 510.2 L971.5 512.7 L970.3 515 L969.4 516.9 L969.6 517.3 L969.8 517.5 L970.1 517.8 L970.3 518.1 L971.2 517.6 L972.9 516.1 L974.8 514.5 L976.8 512.9 L977.3 513.1 L977.5 513.5 L977.7 513.9 L978 514.4 L978.2 514.8 L978.4 515.3 L978.6 515.7 L978.9 516.2 L977.9 517.7 L976.2 519.9 L974.7 521.9 L973.4 523.6 L973.4 524.1 L973.5 524.5 L973.6 524.9 L973.8 525.3 L974.6 525.1 L976.3 524.3 L978.3 523.4 L980.4 522.5 L980.8 522.8 L980.9 523.4 L981 523.9 L981.1 524.5 L981.2 525 L981.2 525.6 L981.3 526.2 L981.3 526.8 L980.2 528 L978.3 529.6 L976.4 531.1 L974.9 532.4 L974.7 533 L974.7 533.5 L974.7 534 L974.7 534.5 L975.3 534.7 L977 534.6 L978.8 534.4 L980.8 534.3 L981.2 534.8 L981.1 535.4 L981 536 L980.9 536.7 L980.8 537.3 L980.7 538 L980.6 538.6 L980.5 539.3 L979.4 540.1 L977.4 541.1 L975.4 541.9 L973.8 542.7 L973.4 543.2 L973.3 543.8 L973.2 544.3 L973 544.8 L973.4 545.3 L974.8 545.9 L976.4 546.5 L978 547.1 L978.3 547.8 L978.1 548.5 L977.8 549.1 L977.6 549.8 L977.3 550.5 L977.1 551.1 L976.8 551.8 L976.6 552.4 L975.5 552.9 L973.5 553 L971.7 553.2 L970.2 553.3 L969.7 553.7 L969.4 554.2 L969.2 554.7 L968.9 555.3 L969 556 L970 557.1 L971.2 558.4 L972.3 559.8Z"/><path d="M923.7 576.2 L923.5 575.8 L923.3 575.4 L923.1 575 L922.9 574.5 L924.1 572.8 L925.5 571 L926.8 569.3 L927.6 568.1 L927.5 567.7 L927.4 567.3 L927.3 567 L927.2 566.6 L926.1 566.9 L924.6 567.6 L922.9 568.4 L921.2 569.1 L921.2 568.6 L921.1 568.1 L921 567.6 L920.9 567 L920.9 566.5 L920.8 566 L920.8 565.5 L920.7 565 L922.1 563.7 L923.7 562.3 L925.2 561 L926.3 560 L926.3 559.5 L926.3 559.1 L926.3 558.6 L926.4 558.2 L925.5 558.1 L924 558.2 L922.4 558.3 L920.8 558.3 L920.9 557.8 L920.9 557.2 L921 556.6 L921.1 556 L921.2 555.5 L921.3 554.9 L921.4 554.3 L921.5 553.7 L922.8 552.9 L924.6 552.1 L926.1 551.3 L927.4 550.7 L927.5 550.2 L927.7 549.7 L927.8 549.2 L927.9 548.8 L927.3 548.3 L926.1 547.8 L924.7 547.2 L923.4 546.6 L923.5 546 L923.7 545.4 L923.9 544.8 L924.1 544.2 L924.4 543.7 L924.6 543.1 L924.8 542.5 L925.1 541.9 L926.3 541.6 L928 541.4 L929.5 541.3 L930.8 541.1 L931 540.6 L931.2 540.2 L931.5 539.7 L931.7 539.2 L931.4 538.5 L930.5 537.5 L929.5 536.3 L928.6 535.1 L928.8 534.4 L929.1 533.9 L929.4 533.3 L929.8 532.8 L930.1 532.2 L930.5 531.7 L930.8 531.2 L931.2 530.6 L932.2 530.7 L933.6 531.3 L934.9 531.8 L936 532.1 L936.4 531.8 L936.7 531.4 L937 531 L937.3 530.6 L937.3 529.7 L936.9 528.2 L936.4 526.6 L935.9 524.8 L936.2 524.2 L936.6 523.7 L937.1 523.2 L937.5 522.8 L937.9 522.4 L938.3 521.9 L938.8 521.5 L939.2 521.1 L940 521.5 L941 522.7 L942 523.8 L942.8 524.6 L943.2 524.5 L943.6 524.2 L943.9 523.9 L944.3 523.6 L944.5 522.7 L944.6 520.9 L944.6 519 L944.7 516.9 L945.1 516.2 L945.5 515.9 L946 515.5 L946.5 515.2 L946.9 514.9 L947.4 514.6 L947.9 514.4 L948.3 514.1 L948.9 514.8 L949.4 516.5 L949.9 518.1 L950.3 519.4 L950.7 519.4 L951.1 519.3 L951.5 519.1 L951.9 518.9 L952.3 518.1 L952.8 516.3 L953.3 514.2 L954 512 L954.5 511.3 L954.9 511.1 L955.4 511 L955.9 510.8 L956.3 510.7 L956.8 510.6 L957.3 510.5 L957.7 510.4 L958 511.3 L958 513.3 L958 515.2 L958 516.9 L958.3 517.2 L958.6 517.1 L959 517.1 L959.4 517.1 L959.9 516.5 L960.8 514.7 L961.8 512.7 L962.9 510.6" stroke-width="1.4"/><path d="M960.3 528.5C958.3 529.4 951.8 530.6 948.3 533.8C944.8 537 941.2 543.7 939.2 547.5C937.2 551.3 936.5 553.4 936.4 556.7C936.2 560 938 565.5 938.3 567.2"/><path d="M964.4 529.2C965.5 530.7 970 535.2 971.3 538.3C972.6 541.3 972.6 544.4 972.2 547.5C971.8 550.6 970.7 553.6 969 556.7C967.3 559.8 964.8 563.6 962.1 565.9C959.4 568.2 955.7 570 952.9 570.5C950.1 571 946.7 570.3 945.1 568.6C943.5 566.9 943.6 561.8 943.3 560.4"/><path d="M957.5 535.1C958.2 534.9 960.5 534.2 962 534C963.5 533.8 965.3 533.2 966.7 533.8C968.1 534.4 969.8 536.8 970.4 537.4" stroke-width="1.6"/><path d="M941 569L945 569.5" stroke-width="1.5"/><path d="M946.5 555.8C947.4 555 950.2 552.7 951.6 551.2C953 549.7 953.4 548 954.8 546.6C956.2 545.2 958.1 543.4 959.8 542.9C961.5 542.4 963.3 543.5 964.9 543.4C966.5 543.3 968.6 541.7 969.4 542.5C970.1 543.3 969.8 546.9 969.4 548.4C969 549.9 967.2 550.7 966.7 551.2" stroke-width="1.7"/><path d="M962.1 556.2C961.5 556.8 959.7 558.6 958.5 559.5C957.3 560.4 956.1 561.3 954.8 561.3C953.5 561.3 951.9 560.3 950.5 559.5C949.1 558.7 947.2 556.2 946.5 556.7C945.8 557.2 946 561.5 946.5 562.2C947 562.9 948.8 561 949.3 560.8" stroke-width="1.7"/><path d="M964.9 544.8 L969 542.9 L968.5 549.4 L964.9 544.8" stroke-width="1.5"/><path d="M956.1 547.5L963.5 551.7M955 543L961 546" stroke-width="1.5"/><path d="M974.4 576.4L997 562.4A3.1 3.1 0 0 0 993.8 557.2L971.2 571.2A3.1 3.1 0 0 0 974.4 576.4Z"/><ellipse cx="1005.6" cy="579.2" rx="10.8" ry="16.8" transform="rotate(28 1005.6 579.2)" stroke-width="2.0"/><ellipse cx="1005.6" cy="579.6" rx="5.6" ry="10.8" transform="rotate(28 1005.6 579.6)" stroke-width="2.0"/><path d="M1060 539.3C1061.5 537.5 1065.2 534.7 1067.4 533.8C1069.6 532.9 1071.3 533.4 1073 534C1074.7 534.6 1076.3 535.9 1077.5 537.4C1078.7 538.9 1079.9 541.3 1080.2 543C1080.5 544.7 1080 546.3 1079.5 547.5C1079 548.7 1078.9 548.9 1077.5 550.3C1076.1 551.7 1072.9 554.9 1071 555.8C1069.1 556.7 1067.5 556 1066 555.5C1064.5 555 1063.1 554.2 1061.9 553C1060.7 551.8 1059.2 549.4 1058.7 548C1058.2 546.6 1058.5 546.2 1058.7 544.8C1058.9 543.3 1058.5 541.1 1060 539.3Z"/><path d="M1062 537.5L1063.5 545M1065.5 535L1066.5 542M1059.5 547L1062 552M1069.5 534L1070 540" stroke-width="1.4"/><path d="M1071 555.8C1070.5 555 1068.4 552.8 1068 551C1067.6 549.2 1067.8 546.8 1068.5 545C1069.2 543.2 1070.6 541.1 1072 540C1073.4 538.9 1076.2 538.8 1077 538.5" stroke-width="1.5"/><path d="M1074.7 543L1106.8 561.3"/><path d="M1071 554L1102.2 570"/><path d="M1074.7 543C1074.2 543.4 1072.2 544.3 1071.5 545.5C1070.8 546.7 1070.6 548.6 1070.5 550C1070.4 551.4 1070.9 553.3 1071 554" stroke-width="1.5"/><ellipse cx="1104.6" cy="565.6" rx="3.3" ry="5.2" transform="rotate(-30 1104.6 565.6)" stroke-width="1.6"/><path d="M1080.2 543.5C1078 546 1078 550 1078.5 555.5M1082.5 544.8C1080.3 547.3 1080.3 551.3 1080.8 556.8M1084.9 546.2C1082.7 548.7 1082.7 552.7 1083.2 558.2M1087.2 547.5C1085 550 1085 554 1085.5 559.5M1089.5 548.8C1087.3 551.3 1087.3 555.3 1087.8 560.8M1091.9 550.2C1089.7 552.7 1089.7 556.7 1090.2 562.2M1094.2 551.5C1092 554 1092 558 1092.5 563.5M1096.5 552.8C1094.3 555.3 1094.3 559.3 1094.8 564.8M1098.9 554.2C1096.7 556.7 1096.7 560.7 1097.2 566.2M1101.2 555.5C1099 558 1099 562 1099.5 567.5" stroke-width="1.3"/><path d="M1111.5 569.5L1114 571M1118 573L1121 574.8M1124.5 577L1127.5 578.7M1131 580.8L1134 582.5M1137 584.3L1139 585.5" stroke-width="1.5"/><path d="M1029.8 583.3L1077.5 608"/><path d="M1016.9 600.7L1062.8 626.4"/><path d="M1029.8 583.3C1027.5 584.5 1018.6 589.1 1016 590.5C1013.4 591.9 1014.5 590.5 1014.2 591.6C1013.9 592.7 1013.8 595.5 1014.2 597C1014.7 598.5 1016.5 600.1 1016.9 600.7"/><path d="M1038 587.9 L1028 598.5 L1020 595.5" stroke-width="1.6"/><path d="M1063.3 627.2 L1069.2 622.5 L1093.7 588.7 L1112.3 599.2 L1110 603.8 L1106.5 609.7"/><path d="M1072 627L1083 633.5" stroke-width="1.5"/><path d="M1104 613C1103 614.8 1100.3 620.8 1098 624C1095.7 627.2 1093.3 629.2 1090 632C1086.7 634.8 1080 639.5 1078 641" stroke-width="1.5"/><path d="M1063.3 627.2C1061.8 628.6 1056.3 632.2 1054 635.3C1051.7 638.4 1049.7 643.1 1049.3 645.8C1048.9 648.5 1050.1 649.8 1051.7 651.7C1053.3 653.7 1057.4 654.2 1058.7 657.5C1060 660.8 1058.6 667 1059.8 671.5C1061 676 1062.6 680.6 1065.7 684.3C1068.8 688 1074.2 691.2 1078.5 693.7C1082.8 696.2 1086.8 698.3 1091.3 699.5C1095.8 700.7 1099.8 701.1 1105.3 700.7C1110.8 700.3 1119.9 697.2 1124 697.2C1128.1 697.2 1127.7 699.9 1129.8 700.7C1131.9 701.5 1134.6 702.7 1136.8 701.9C1139 701.1 1141.3 698.7 1142.7 696C1144.1 693.3 1144.4 689.4 1145 685.5C1145.6 681.6 1144.2 678 1146.2 672.7C1148.2 667.5 1153.8 659.5 1156.7 654C1159.6 648.5 1161.8 643.3 1163.7 640C1165.7 636.7 1166.7 636.7 1168.4 634.2C1170.2 631.7 1173 628.7 1174.2 624.8C1175.4 620.9 1175 614.5 1175.4 610.8C1175.8 607.1 1177.1 606 1176.5 602.7C1175.9 599.4 1174 594.3 1171.9 591C1169.8 587.7 1166.8 584.3 1163.7 582.8C1160.6 581.2 1156.3 581.1 1153.2 581.7C1150.1 582.3 1147.2 585.1 1145 586.3C1142.8 587.5 1143.2 588.3 1140.3 588.7C1137.4 589.1 1132.5 587.7 1127.5 588.7C1122.5 589.7 1112.9 593.5 1110 594.5"/><path d="M1142 589.5L1149 594" stroke-width="1.5"/><path d="M1058 638.5L1068 643" stroke-width="1.5"/><path d="M1059.5 656C1060.6 657 1063.2 660 1066 662C1068.8 664 1072.7 666.3 1076 668C1079.3 669.7 1084.3 671.3 1086 672" stroke-width="1.5"/><path d="M1068 652C1068.2 654.2 1068.8 661.7 1069 665C1069.2 668.3 1069.4 670.8 1069.5 672" stroke-width="1.5"/><path d="M1060 672C1062.5 673.5 1071.2 678.3 1075 681C1078.8 683.7 1081.2 685.7 1083 688C1084.8 690.3 1085.5 693.8 1086 695" stroke-width="1.5"/><path d="M1118.2 628.3C1118.7 627.2 1119.2 623.9 1121 622C1122.8 620.1 1125.9 618 1128.7 616.7C1131.5 615.4 1135.7 614.4 1138 614C1140.3 613.6 1141.2 613.6 1142.7 614.3C1144.2 615 1145.8 616.2 1147 618C1148.2 619.8 1149.4 622 1149.7 624.8C1150 627.6 1149.4 631.5 1149 635C1148.6 638.5 1147.6 644 1147.3 645.8"/><path d="M1122 627C1123.3 626.2 1127.5 623.2 1130 622C1132.5 620.8 1134.8 620.3 1137 620C1139.2 619.7 1141.5 618.7 1143 620C1144.5 621.3 1145.7 624.7 1146 628C1146.3 631.3 1145.2 638 1145 640" stroke-width="1.4"/><path d="M1136 622C1136.5 623.7 1138.2 628.2 1139 632C1139.8 635.8 1140.7 642.8 1141 645" stroke-width="1.3"/><path d="M1121 645C1123.2 643.8 1127.3 640.2 1131 640.5C1134.7 640.8 1140.1 644.2 1143 647C1145.9 649.8 1148 653.7 1148.5 657C1149 660.3 1147.8 665 1146 667C1144.2 669 1141.5 669.5 1138 669C1134.5 668.5 1128.5 666.2 1125 664C1121.5 661.8 1118.2 658.7 1117 656C1115.8 653.3 1116.8 649.8 1117.5 648C1118.2 646.2 1118.8 646.2 1121 645Z"/><path d="M1104 648.2C1103.2 649 1100 650.9 1099 653C1098 655.1 1098.1 658.2 1098.3 661C1098.5 663.8 1099.2 667.3 1100 670C1100.8 672.7 1101.5 675.3 1103 677.3C1104.5 679.3 1107 680.8 1109 682C1111 683.2 1112.9 684.3 1114.7 684.3C1116.5 684.3 1118.1 683.2 1120 682C1121.9 680.8 1125.2 678.1 1126.3 677.3"/><path d="M1105 652C1104.7 653.7 1102.8 658.7 1103 662C1103.2 665.3 1104.5 669.3 1106 672C1107.5 674.7 1109.7 676.7 1112 678C1114.3 679.3 1118.7 679.7 1120 680" stroke-width="1.4"/><path d="M1109 670L1112 682M1117 675L1115 684" stroke-width="1.3"/><path d="M1166.2 594.7C1165.8 591.7 1164 590.6 1162.7 590.9C1159.9 591.3 1156.4 594.9 1154.9 598.4C1153.8 601.1 1154.6 604.7 1157 605.4C1158.4 605.8 1159.8 605.3 1160.8 604.9M1162.7 591.3C1161.7 594.9 1159.5 599.4 1156 603.3"/><path d="M1084.5 648.4C1084.1 645.4 1082.3 644.3 1081 644.6C1078.2 645 1074.7 648.6 1073.2 652.1C1072.1 654.9 1072.9 658.4 1075.3 659.1C1076.7 659.5 1078.1 659 1079.1 658.6M1081 645C1080 648.6 1077.8 653.1 1074.3 657"/><path d="M1141.7 689.2C1141.3 686.2 1139.5 685.1 1138.2 685.4C1135.4 685.8 1131.9 689.4 1130.4 692.9C1129.3 695.6 1130.1 699.2 1132.5 699.9C1133.9 700.3 1135.3 699.8 1136.3 699.4M1138.2 685.8C1137.2 689.4 1135 693.9 1131.5 697.8"/><path d="M1076 664C1077.2 663.2 1080.2 662.3 1082 662.5C1083.8 662.7 1086.2 663.8 1087 665C1087.8 666.2 1087.8 668.8 1087 670C1086.2 671.2 1083.8 672.4 1082 672.5C1080.2 672.6 1077.2 671.4 1076 670.5C1074.8 669.6 1074.5 668.1 1074.5 667C1074.5 665.9 1074.8 664.8 1076 664Z"/><path d="M1094.5 617.5L1101.5 608.5" stroke-width="3.6"/><path d="M1094.5 617.5L1101.5 608.5" stroke-width="1.2" stroke="#fff"/><ellipse cx="1170.5" cy="610.8" rx="3.6" ry="4.4" transform="rotate(0 1170.5 610.8)"/><path d="M1164 627C1165 625.8 1168.2 624.4 1170 624.5C1171.8 624.6 1174.2 626.2 1175 627.5C1175.8 628.8 1176 630.8 1175 632C1174 633.2 1170.8 634.5 1169 634.5C1167.2 634.5 1164.8 633.2 1164 632C1163.2 630.8 1163 628.2 1164 627Z"/><path d="M915.9 428.5C915.4 424.1 917 415.3 918.6 410.5C920.2 405.7 922.5 402.9 925.3 399.8C928.1 396.7 932 393.5 935.3 391.8C938.6 390.1 942.5 389.7 945.3 389.8C948.1 389.9 949.1 390.9 951.9 392.5C954.7 394.1 959.7 397.1 961.9 399.2C964.1 401.3 964.7 402.8 965.3 405.2C965.9 407.6 965.8 410.5 965.3 413.8C964.8 417.1 964.3 421.5 962.6 425.2C960.9 428.9 958.2 432.9 955.3 435.8C952.4 438.7 948.6 441.2 945.3 442.5C942 443.8 938.1 444 935.3 443.8C932.5 443.6 930.9 442.3 928.6 441.2C926.3 440.1 923.4 439.3 921.3 437.2C919.2 435.1 916.3 432.9 915.9 428.5Z"/><ellipse cx="946.8" cy="419.8" rx="15.5" ry="24.7" transform="rotate(26 946.8 419.8)" stroke-width="2.0"/><ellipse cx="946.8" cy="419.8" rx="14.4" ry="23" transform="rotate(26 946.8 419.8)" stroke-width="1.3"/><ellipse cx="946.8" cy="419.8" rx="12.9" ry="20.5" transform="rotate(26 946.8 419.8)" stroke-width="2.4"/><path d="M958.1 427.9a1.1 1.5 0 1 0 -2.2 0a1.1 1.5 0 1 0 2.2 0M952.5 434.7a1.1 1.5 0 1 0 -2.2 0a1.1 1.5 0 1 0 2.2 0M946 438.5a1.1 1.5 0 1 0 -2.2 0a1.1 1.5 0 1 0 2.2 0M939.9 438.6a1.1 1.5 0 1 0 -2.2 0a1.1 1.5 0 1 0 2.2 0M935.4 435a1.1 1.5 0 1 0 -2.2 0a1.1 1.5 0 1 0 2.2 0M933.3 428.4a1.1 1.5 0 1 0 -2.2 0a1.1 1.5 0 1 0 2.2 0M934.2 420a1.1 1.5 0 1 0 -2.2 0a1.1 1.5 0 1 0 2.2 0M937.7 411.7a1.1 1.5 0 1 0 -2.2 0a1.1 1.5 0 1 0 2.2 0M943.3 404.9a1.1 1.5 0 1 0 -2.2 0a1.1 1.5 0 1 0 2.2 0M949.8 401.1a1.1 1.5 0 1 0 -2.2 0a1.1 1.5 0 1 0 2.2 0M955.9 401a1.1 1.5 0 1 0 -2.2 0a1.1 1.5 0 1 0 2.2 0M960.4 404.6a1.1 1.5 0 1 0 -2.2 0a1.1 1.5 0 1 0 2.2 0M962.5 411.2a1.1 1.5 0 1 0 -2.2 0a1.1 1.5 0 1 0 2.2 0M961.6 419.6a1.1 1.5 0 1 0 -2.2 0a1.1 1.5 0 1 0 2.2 0" fill="#fff" stroke="none"/><ellipse cx="946.8" cy="419.8" rx="10.8" ry="17.8" transform="rotate(26 946.8 419.8)" stroke-width="1.8"/><path d="M953.9 415.8C953.4 411.8 951 410.2 949.1 410.6C945.3 411.2 940.6 416 938.6 420.8C937.1 424.6 938.2 429.4 941.4 430.4C943.3 430.9 945.2 430.2 946.6 429.6M949.2 411.2C947.9 416 944.8 422.2 940.1 427.5"/><path d="M646.8 775C646.3 769.3 646.8 755.9 647.8 749.5C648.8 743.1 650.8 740.3 653.1 736.8C655.4 733.3 658.4 730.4 661.6 728.3C664.8 726.2 668.8 724.7 672.3 724C675.8 723.3 680.1 724.2 682.9 724C685.7 723.8 684.5 725.3 689.3 723C694.1 720.7 705.2 713.8 711.6 710.2C718 706.7 723.1 703.5 727.5 701.7C731.9 699.9 733.6 700 738.2 699.6C742.8 699.2 751.1 698.7 755.2 699.6C759.3 700.5 761.1 702.6 762.6 704.9C764.1 707.2 764.7 709.9 764.2 713.4C763.7 716.9 762 721.9 759.4 726.1C756.8 730.4 754.1 734.3 748.8 738.9C743.5 743.5 734.6 749.2 727.5 753.8C720.4 758.4 713.4 762.6 706.3 766.5C699.2 770.4 691.4 773.7 685 777.1C678.6 780.5 672.2 784.9 668 786.7C663.8 788.5 662.3 788.3 659.5 787.8C656.7 787.3 653.1 785.6 651 783.5C648.9 781.4 647.3 780.7 646.8 775Z"/><path d="M672.3 731.4C673.9 731 679.3 729.5 681.8 729.3C684.3 729.1 685.1 730.4 687.1 730.4C689.1 730.4 688.5 731.6 693.5 729.3C698.5 727 710.4 720.3 716.9 716.6C723.4 712.9 726.1 709.1 732.8 707C739.5 704.9 753.2 704.3 757.3 703.8" stroke-width="1.6"/><path d="M685 725L687.5 730.5" stroke-width="1.5"/><path d="M656.3 752.7C656.2 755.2 655.7 762.9 655.5 768C655.3 773.1 655.3 780.9 655.3 783.5" stroke-width="1.6"/><ellipse cx="754.6" cy="718.2" rx="5.2" ry="8.2" transform="rotate(33 754.6 718.2)" stroke-width="2.6"/><ellipse cx="754.6" cy="718.2" rx="2.4" ry="4.8" transform="rotate(33 754.6 718.2)" stroke-width="1.8"/><ellipse cx="670.7" cy="774" rx="5.2" ry="8.2" transform="rotate(33 670.7 774)" stroke-width="2.6"/><ellipse cx="670.7" cy="774" rx="2.4" ry="4.8" transform="rotate(33 670.7 774)" stroke-width="1.8"/><path d="M607.4 737.8C608.8 735.8 611.5 733.7 613.8 733C616.1 732.3 619.2 732.6 621.3 733.6C623.4 734.6 625.5 736.2 626.6 738.9C627.7 741.5 628 747 627.6 749.5C627.2 752 626.2 752.9 624.4 753.8C622.6 754.7 619.6 755.2 617 754.8C614.4 754.4 610.5 753.2 608.5 751.6C606.5 750 605.5 747.6 605.3 745.3C605.1 743 606 739.8 607.4 737.8Z"/><path d="M609.5 736L610 744M613 734L613.5 741.5M606.5 747L609 752.5M611.5 753.5L612 747M616.5 733.5L617 739" stroke-width="1.4"/><path d="M623.5 739C622.9 739.3 620.8 739.8 620 741C619.2 742.2 618.5 744.2 618.5 746C618.5 747.8 619 750.2 620 751.5C621 752.8 623.7 753.4 624.4 753.8" stroke-width="1.6"/><path d="M621.3 742L635 748.4"/><path d="M624.4 753.8L631.9 758"/><ellipse cx="634.2" cy="753.3" rx="3.4" ry="5.3" transform="rotate(-25 634.2 753.3)" stroke-width="1.7"/><path d="M626.5 743C624.5 746 624.5 751 625.5 755M628.9 744.1C626.9 747.1 626.9 752.1 627.9 756.1M631.3 745.2C629.3 748.2 629.3 753.2 630.3 757.2M633.7 746.3C631.7 749.3 631.7 754.3 632.7 758.3" stroke-width="1.3"/><ellipse cx="742.3" cy="790.4" rx="10.6" ry="15.6" transform="rotate(22 742.3 790.4)"/><ellipse cx="742.3" cy="790.4" rx="8.6" ry="13.4" transform="rotate(22 742.3 790.4)" stroke-width="1.4"/><path d="M764.9 854.5C764.5 854.3 763.3 853.6 762.5 853.1C761.8 852.5 761.1 851.9 760.5 851.2C759.8 850.5 759.2 849.7 758.7 848.9C758.1 848.1 757.7 847.2 757.2 846.3C756.8 845.4 756.4 844.4 756.1 843.4C755.7 842.3 755.4 841.2 755.2 840.1C755 839 754.9 837.8 754.7 836.6C754.6 835.4 754.6 834.1 754.6 832.9C754.6 831.6 754.7 830.3 754.8 828.9C755 827.6 755.2 826.2 755.4 824.9C755.6 823.5 755.9 822.1 756.3 820.7C756.7 819.3 757.1 817.9 757.5 816.5C758 815.1 758.5 813.7 759.1 812.3C759.7 810.9 760.3 809.5 760.9 808.1C761.6 806.7 762.3 805.3 763.1 804C763.8 802.6 764.6 801.3 765.5 800C766.3 798.7 767.2 797.5 768.1 796.2C769 795 769.9 793.8 770.9 792.7C771.9 791.5 772.9 790.4 773.9 789.4C774.9 788.3 776 787.3 777 786.3C778.1 785.4 779.2 784.5 780.3 783.6C781.3 782.8 782.5 782 783.6 781.3C784.7 780.6 785.8 779.9 786.9 779.3C788 778.7 789.1 778.2 790.2 777.8C791.3 777.3 792.4 776.9 793.5 776.6C794.6 776.3 795.7 776.1 796.7 775.9C797.8 775.8 798.8 775.7 799.8 775.6C800.8 775.6 801.8 775.7 802.8 775.8C803.7 775.9 804.7 776.2 805.6 776.4C806.5 776.7 807.3 777.1 808.1 777.5C808.9 777.9 810.1 778.7 810.5 778.9"/><path d="M769.3 856.3C768.9 856.1 767.8 855.3 767.1 854.6C766.5 854 765.9 853.3 765.3 852.5C764.7 851.8 764.2 851 763.7 850.1C763.3 849.2 762.9 848.3 762.5 847.3C762.1 846.3 761.8 845.3 761.6 844.2C761.3 843.1 761.1 842 761 840.9C760.9 839.7 760.8 838.5 760.8 837.3C760.7 836 760.8 834.8 760.9 833.5C760.9 832.2 761.1 830.9 761.3 829.5C761.5 828.2 761.8 826.8 762.1 825.5C762.4 824.1 762.8 822.7 763.2 821.4C763.6 820 764.1 818.6 764.6 817.2C765.1 815.8 765.7 814.5 766.3 813.1C766.9 811.7 767.6 810.4 768.3 809.1C769 807.7 769.8 806.4 770.6 805.1C771.4 803.8 772.2 802.6 773.1 801.4C773.9 800.1 774.8 798.9 775.8 797.8C776.7 796.6 777.7 795.5 778.7 794.4C779.6 793.4 780.6 792.4 781.7 791.4C782.7 790.4 783.8 789.5 784.8 788.6C785.9 787.8 787 787 788 786.2C789.1 785.5 790.2 784.8 791.3 784.2C792.4 783.5 793.5 783 794.6 782.5C795.7 782 796.7 781.6 797.8 781.2C798.9 780.9 799.9 780.6 801 780.4C802 780.2 803.1 780.1 804.1 780C805.1 779.9 806.1 779.9 807 780C808 780.1 808.9 780.3 809.8 780.5C810.7 780.7 812 781.2 812.4 781.4" stroke-width="1.6"/><path d="M808.9 777.9L864 809.9"/><path d="M764.1 854.1L819.2 886.1"/><path d="M768.7 854.6L811.1 879.2M774.4 857.5L810.9 878.7M767.3 853L810.5 878.1M765.5 850.4L809.7 876M771.4 853.1L809.6 875.3M764.5 848.3L809.5 874.4M763.4 845L808.8 871.4M769.5 847.5L808.6 870.2M762.9 842.4L808.3 868.8M762.5 838.6L808.3 865.3M768.7 841L808.3 863.9M762.4 835.7L808.3 862.3M762.7 831.5L809 858.4M769.2 833.8L809.2 857M763.2 828.4L809.5 855.3M764.2 824L810.5 850.8M770.9 826.2L810.9 849.4M765.2 820.7L811.5 847.6M766.8 816.3L813.1 843.1M773.8 818.5L813.7 841.6M768.2 813.1L814.5 839.9M770.5 808.7L816.8 835.6M777.6 811L817.6 834.1M772.3 805.6L818.6 832.5M775 801.6L821.3 828.4M782.3 804L822.3 827.2M777.2 798.8L823.4 825.7M780.3 795.2L826.6 822.1M787.7 797.8L827.6 820.9M782.7 792.8L828.9 819.7M786 789.8L831.9 816.4M793.5 792.6L833 815.5M788.6 787.9L834.4 814.5M792.1 785.6L837.9 812.2M799.6 788.6L839.1 811.6M794.7 784.3L840.1 810.6M798.2 782.8L843.6 809.2M805.6 786.1L844.3 808.5M800.7 782.1L845.7 808.2M804 781.5L848.2 807.1M811.5 785.1L849.3 807M806.4 781.4L850.1 806.7M809.5 781.7L851.9 806.3M816.8 785.5L852.4 806.2M811.6 782.2L853.1 806.3" stroke-width="1.5"/><path d="M767.7 854L770 855L766.2 852.4M764.5 849.8L767 850.6L763.5 847.7M762.4 844.4L765.1 845L761.8 841.8M761.4 838L764.4 838.5L761.4 835.1M761.7 830.9L764.9 831.3L762.2 827.8M763.2 823.4L766.6 823.7L764.1 820.1M765.8 815.7L769.4 815.9L767.2 812.4M769.4 808.1L773.3 808.4L771.2 805M774 801L778 801.5L776.1 798.2M779.2 794.6L783.3 795.2L781.6 792.2M785 789.2L789.2 790.1L787.5 787.3M791.1 785L795.3 786.1L793.6 783.7M797.1 782.2L801.3 783.6L799.6 781.5M803 780.9L807.1 782.5L805.4 780.8M808.5 781.1L812.5 783L810.6 781.6" stroke-width="1.3"/><ellipse cx="841.6" cy="848" rx="26.3" ry="44.2" transform="rotate(30.5 841.6 848)"/><path d="M823.3 867.8C823.1 867.5 822.3 866.7 821.9 866C821.5 865.4 821.1 864.7 820.8 863.9C820.5 863.2 820.3 862.4 820.1 861.5C819.8 860.7 819.7 859.8 819.6 858.9C819.5 857.9 819.5 857 819.5 856C819.5 855 819.6 854 819.7 853C819.9 851.9 820.1 850.9 820.3 849.8C820.6 848.8 820.9 847.7 821.2 846.6C821.6 845.6 822 844.5 822.4 843.4C822.9 842.4 823.4 841.3 823.9 840.3C824.5 839.3 825 838.3 825.7 837.3C826.3 836.3 827 835.4 827.6 834.5C828.3 833.6 829.1 832.7 829.8 831.9C830.6 831.1 831.4 830.3 832.2 829.6C833 828.8 833.8 828.1 834.6 827.5C835.4 826.9 836.3 826.4 837.1 825.9C838 825.4 838.8 824.9 839.7 824.6C840.5 824.2 841.4 823.9 842.2 823.7C843 823.4 843.8 823.3 844.6 823.2C845.4 823.1 846.2 823.1 847 823.1C847.7 823.2 848.5 823.3 849.2 823.5C849.9 823.7 850.5 824 851.2 824.3C851.8 824.6 852.4 825 852.9 825.5C853.5 826 854 826.5 854.5 827.1C854.9 827.7 855.3 828.3 855.7 829C856.1 829.7 856.4 830.5 856.6 831.3C856.9 832.1 857.1 832.9 857.2 833.8C857.4 834.7 857.5 835.7 857.5 836.6C857.5 837.6 857.5 838.6 857.4 839.6C857.3 840.6 857.1 842.2 857 842.7"/><path d="M863.1 835.9C863 836.5 862.9 838.3 862.7 839.6C862.5 840.8 862.3 842.1 862 843.3C861.7 844.6 861.3 845.8 860.8 847.1C860.4 848.4 859.9 849.6 859.4 850.9C858.8 852.1 858.2 853.3 857.6 854.6C856.9 855.8 856.2 856.9 855.5 858.1C854.7 859.2 853.9 860.4 853.1 861.4C852.3 862.5 850.9 864 850.5 864.5" stroke-width="1.6"/><path d="M831 875C830.6 874.9 829.3 874.9 828.6 874.8C827.8 874.7 827 874.5 826.3 874.2C825.6 874 824.9 873.7 824.2 873.3C823.6 872.9 823 872.5 822.4 872C821.8 871.5 821.3 870.9 820.8 870.3C820.3 869.7 819.6 868.6 819.4 868.3" stroke-width="1.6"/><path d="M843.7 841C843.3 837.4 841.2 836 839.5 836.3C836.1 836.8 831.8 841.2 830 845.4C828.7 848.8 829.7 853.2 832.6 854C834.3 854.5 836 853.8 837.2 853.3M839.6 836.8C838.4 841.2 835.6 846.7 831.4 851.5"/><path d="M890.5 874.4 L889.4 876.3 L888.1 878.1 L886.7 879.8 L885.2 881.3 L883.6 882.6 L881.9 883.7 L880.3 884.5 L878.6 885 L877 885.3 L875.5 885.3 L874 885 L872.7 884.5 L871.5 883.7 L870.4 882.6 L869.6 881.3 L868.9 879.8 L868.4 878.2 L868.2 876.3 L868.2 874.4 L868.3 872.4 L868.7 870.3 L869.3 868.2 L870.1 866.1 L871.1 864 L872.2 862.1 L873.5 860.3 L874.9 858.6 L876.4 857.1 L878 855.8 L879.7 854.7 L881.3 853.9 L883 853.4 L884.6 853.1 L886.1 853.1 L887.6 853.4 L888.9 853.9 L890.1 854.7 L891.2 855.8 L892 857.1 L892.7 858.6 L893.2 860.2 L893.4 862.1 L893.4 864 L893.3 866 L892.9 868.1 L892.3 870.2 L891.5 872.3 L890.5 874.4ZM888.6 873.4 L887.6 875 L886.6 876.6 L885.4 878 L884.2 879.3 L882.9 880.4 L881.6 881.3 L880.2 882.1 L878.9 882.6 L877.6 882.8 L876.4 882.9 L875.3 882.7 L874.2 882.3 L873.3 881.7 L872.5 880.8 L871.9 879.8 L871.4 878.6 L871.1 877.2 L870.9 875.7 L871 874.1 L871.2 872.4 L871.5 870.6 L872.1 868.9 L872.8 867.1 L873.6 865.4 L874.6 863.8 L875.6 862.2 L876.8 860.8 L878 859.5 L879.3 858.4 L880.6 857.5 L882 856.7 L883.3 856.2 L884.6 856 L885.8 855.9 L886.9 856.1 L888 856.5 L888.9 857.1 L889.7 858 L890.3 859 L890.8 860.2 L891.1 861.6 L891.3 863.1 L891.2 864.7 L891 866.4 L890.7 868.2 L890.1 869.9 L889.4 871.7 L888.6 873.4Z" fill="#fff" fill-rule="evenodd" stroke-width="2"/><path d="M899.5 879.4 L898.4 881.3 L897.1 883.1 L895.7 884.8 L894.2 886.3 L892.6 887.6 L890.9 888.7 L889.3 889.5 L887.6 890 L886 890.3 L884.5 890.3 L883 890 L881.7 889.5 L880.5 888.7 L879.4 887.6 L878.6 886.3 L877.9 884.8 L877.4 883.2 L877.2 881.3 L877.2 879.4 L877.3 877.4 L877.7 875.3 L878.3 873.2 L879.1 871.1 L880.1 869 L881.2 867.1 L882.5 865.3 L883.9 863.6 L885.4 862.1 L887 860.8 L888.7 859.7 L890.3 858.9 L892 858.4 L893.6 858.1 L895.1 858.1 L896.6 858.4 L897.9 858.9 L899.1 859.7 L900.2 860.8 L901 862.1 L901.7 863.6 L902.2 865.2 L902.4 867.1 L902.4 869 L902.3 871 L901.9 873.1 L901.3 875.2 L900.5 877.3 L899.5 879.4ZM897.6 878.4 L896.6 880 L895.6 881.6 L894.4 883 L893.2 884.3 L891.9 885.4 L890.6 886.3 L889.2 887.1 L887.9 887.6 L886.6 887.8 L885.4 887.9 L884.3 887.7 L883.2 887.3 L882.3 886.7 L881.5 885.8 L880.9 884.8 L880.4 883.6 L880.1 882.2 L879.9 880.7 L880 879.1 L880.2 877.4 L880.5 875.6 L881.1 873.9 L881.8 872.1 L882.6 870.4 L883.6 868.8 L884.6 867.2 L885.8 865.8 L887 864.5 L888.3 863.4 L889.6 862.5 L891 861.7 L892.3 861.2 L893.6 861 L894.8 860.9 L895.9 861.1 L897 861.5 L897.9 862.1 L898.7 863 L899.3 864 L899.8 865.2 L900.1 866.6 L900.3 868.1 L900.2 869.7 L900 871.4 L899.7 873.2 L899.1 874.9 L898.4 876.7 L897.6 878.4Z" fill="#fff" fill-rule="evenodd" stroke-width="2"/><path d="M909 883.7 L907.9 885.6 L906.6 887.4 L905.2 889.1 L903.7 890.6 L902.1 891.9 L900.4 893 L898.8 893.8 L897.1 894.3 L895.5 894.6 L894 894.6 L892.5 894.3 L891.2 893.8 L890 893 L888.9 891.9 L888.1 890.6 L887.4 889.1 L886.9 887.5 L886.7 885.6 L886.7 883.7 L886.8 881.7 L887.2 879.6 L887.8 877.5 L888.6 875.4 L889.6 873.3 L890.7 871.4 L892 869.6 L893.4 867.9 L894.9 866.4 L896.5 865.1 L898.2 864 L899.8 863.2 L901.5 862.7 L903.1 862.4 L904.6 862.4 L906.1 862.7 L907.4 863.2 L908.6 864 L909.7 865.1 L910.5 866.4 L911.2 867.9 L911.7 869.5 L911.9 871.4 L911.9 873.3 L911.8 875.3 L911.4 877.4 L910.8 879.5 L910 881.6 L909 883.7ZM907.1 882.7 L906.1 884.3 L905.1 885.9 L903.9 887.3 L902.7 888.6 L901.4 889.7 L900.1 890.6 L898.7 891.4 L897.4 891.9 L896.1 892.1 L894.9 892.2 L893.8 892 L892.7 891.6 L891.8 891 L891 890.1 L890.4 889.1 L889.9 887.9 L889.6 886.5 L889.4 885 L889.5 883.4 L889.7 881.7 L890 879.9 L890.6 878.2 L891.3 876.4 L892.1 874.7 L893.1 873.1 L894.1 871.5 L895.3 870.1 L896.5 868.8 L897.8 867.7 L899.1 866.8 L900.5 866 L901.8 865.5 L903.1 865.3 L904.3 865.2 L905.4 865.4 L906.5 865.8 L907.4 866.4 L908.2 867.3 L908.8 868.3 L909.3 869.5 L909.6 870.9 L909.8 872.4 L909.7 874 L909.5 875.7 L909.2 877.5 L908.6 879.2 L907.9 881 L907.1 882.7Z" fill="#fff" fill-rule="evenodd" stroke-width="2"/><ellipse cx="947.4" cy="909.4" rx="36" ry="57.9" transform="rotate(29.5 947.4 909.4)" stroke-width="1.6"/><ellipse cx="947.4" cy="909.4" rx="34" ry="55.8" transform="rotate(29.5 947.4 909.4)" stroke-width="1.4"/><path d="M1047.5 896.2C1052.3 894.8 1052.3 890.5 1055 888.8C1057.7 887 1060.6 885.2 1063.8 885.6C1066.9 886 1071.7 889.1 1073.8 891.2C1075.8 893.4 1076.2 895.8 1076.2 898.8C1076.2 901.7 1075 905.6 1073.8 908.8C1072.5 911.9 1069.8 914 1068.8 917.5C1067.7 921 1068.1 923.8 1067.5 930C1066.9 936.2 1066.5 948.3 1065 955C1063.5 961.7 1060.6 966 1058.8 970C1056.9 974 1054.4 975.6 1053.8 978.8C1053.1 981.9 1055.2 985.2 1055 988.8C1054.8 992.3 1054.2 997.3 1052.5 1000C1050.8 1002.7 1048.3 1004.8 1045 1005C1041.7 1005.2 1036.2 1001.2 1032.5 1001.2C1028.8 1001.2 1027.3 1003.8 1022.5 1005C1017.7 1006.2 1009 1008.8 1003.8 1008.8C998.5 1008.8 994.8 1007.3 991.2 1005C987.7 1002.7 984.8 999.6 982.5 995C980.2 990.4 978.5 982.9 977.5 977.5C976.5 972.1 977.5 965.6 976.2 962.5C975 959.4 971.2 960.8 970 958.8C968.8 956.7 968.1 952.9 968.8 950C969.4 947.1 971 943.8 973.8 941.2C976.5 938.8 981.2 937.1 985 935C988.8 932.9 992.1 932.7 996.2 928.8C1000.4 924.8 1005 916.5 1010 911.2C1015 906 1020 900 1026.2 897.5C1032.5 895 1042.7 897.7 1047.5 896.2Z"/><path d="M1015.4 915.7C1016.1 915.1 1018.2 913.2 1019.7 912.1C1021.1 911 1022.6 910 1024.1 909.1C1025.6 908.2 1027.1 907.3 1028.6 906.6C1030 905.8 1031.5 905.2 1033 904.7C1034.5 904.1 1035.9 903.7 1037.4 903.3C1038.8 903 1040.2 902.7 1041.6 902.6C1043 902.5 1044.4 902.4 1045.7 902.5C1047.1 902.6 1048.4 902.7 1049.6 903C1050.9 903.3 1052.1 903.7 1053.3 904.1C1054.4 904.6 1055.6 905.2 1056.6 905.9C1057.7 906.5 1058.7 907.3 1059.6 908.2C1060.5 909 1061.4 910 1062.2 911C1063 912 1063.8 913.2 1064.5 914.4C1065.1 915.6 1065.7 916.9 1066.2 918.2C1066.8 919.6 1067.2 921 1067.6 922.5C1068 924 1068.2 925.6 1068.5 927.2C1068.7 928.8 1068.8 930.5 1068.9 932.2C1068.9 933.9 1068.9 935.6 1068.8 937.4C1068.7 939.2 1068.5 941.1 1068.2 942.9C1067.9 944.7 1067.6 946.6 1067.2 948.5C1066.7 950.4 1066.2 952.3 1065.7 954.2C1065.1 956.1 1064.4 958 1063.7 959.9C1063 961.8 1062.2 963.7 1061.4 965.6C1060.5 967.5 1059.6 969.3 1058.6 971.1C1057.6 972.9 1056.6 974.7 1055.5 976.5C1054.4 978.2 1053.2 979.9 1052 981.6C1050.8 983.2 1049.6 984.8 1048.3 986.4C1047 987.9 1045.7 989.4 1044.3 990.8C1043 992.2 1041.6 993.6 1040.2 994.8C1038.7 996.1 1037.3 997.3 1035.8 998.4C1034.4 999.5 1032.9 1000.5 1031.4 1001.4C1030 1002.4 1028.5 1003.2 1027 1003.9C1025.5 1004.7 1024 1005.3 1022.5 1005.9C1021.1 1006.4 1019.6 1006.9 1018.2 1007.2C1016.7 1007.6 1015.3 1007.8 1013.9 1008C1012.5 1008.1 1011.1 1008.2 1009.8 1008.1C1008.5 1008 1007.1 1007.9 1005.9 1007.6C1004.6 1007.4 1003.4 1007 1002.2 1006.5C1001.1 1006 1000 1005.5 998.9 1004.8C997.8 1004.1 996.8 1003.4 995.9 1002.5C994.9 1001.7 994.1 1000.7 993.2 999.7C992.4 998.7 991.7 997.5 991 996.3C990.3 995.1 989.7 993.9 989.2 992.5C988.7 991.2 988.2 989.7 987.9 988.2C987.5 986.8 987.2 985.2 987 983.6C986.7 982 986.6 980.3 986.5 978.6C986.5 976.9 986.5 975.1 986.6 973.3C986.7 971.6 986.9 969.7 987.2 967.9C987.4 966 987.8 964.1 988.2 962.3C988.6 960.4 989.4 957.5 989.7 956.6"/><path d="M1070 897.2C1069.4 897.2 1067.4 896.6 1066.5 897.2C1065.6 897.9 1064.6 899.9 1064.5 901.2C1064.4 902.6 1065.2 904.4 1066 905.2C1066.8 906.1 1068.9 906.1 1069.5 906.2" stroke-width="1.5"/><path d="M987.5 949.8C986.9 949.8 984.9 949.1 984 949.8C983.1 950.4 982.1 952.4 982 953.8C981.9 955.1 982.7 956.9 983.5 957.8C984.3 958.6 986.4 958.6 987 958.8" stroke-width="1.5"/><path d="M1050 992.2C1049.4 992.2 1047.4 991.6 1046.5 992.2C1045.6 992.9 1044.6 994.9 1044.5 996.2C1044.4 997.6 1045.2 999.4 1046 1000.2C1046.8 1001.1 1048.9 1001.1 1049.5 1001.2" stroke-width="1.5"/><path d="M992 932.5L1002 936M982 942L999 936M977.5 960L985 965M991 966L989 975" stroke-width="1.4"/><path d="M1050 898L1055 904M1051 905L1057 902" stroke-width="1.4"/><path d="M1061.7 997.5C1061.3 997.4 1060.2 996.5 1059.2 996.7C1058.2 997 1056.3 998 1055.5 999C1054.7 1000 1054.3 1001.3 1054.2 1002.5C1054.1 1003.7 1054.5 1004.9 1055 1006C1055.5 1007.1 1057.1 1008.7 1057.5 1009.2"/><path d="M1059.5 996.8L1076.7 1005.8M1057.5 1009.2L1071.7 1015"/><path d="M1060 997.5C1058 999 1057 1003 1058 1008M1062.5 998.8C1060.5 1000.2 1059.5 1004.2 1060.5 1009.2M1065 1000C1063 1001.5 1062 1005.5 1063 1010.5M1067.5 1001.2C1065.5 1002.8 1064.5 1006.8 1065.5 1011.8M1070 1002.5C1068 1004 1067 1008 1068 1013M1072.5 1003.8C1070.5 1005.2 1069.5 1009.2 1070.5 1014.2M1075 1005C1073 1006.5 1072 1010.5 1073 1015.5" stroke-width="1.5"/><path d="M1076.7 1005.8C1076.1 1006.3 1073.8 1007.5 1073 1009C1072.2 1010.5 1071.8 1012.8 1071.7 1015C1071.6 1017.2 1071.7 1020.5 1072.5 1022.5C1073.3 1024.5 1075 1025.8 1076.7 1026.7C1078.4 1027.6 1081.5 1027.7 1082.5 1027.9"/><path d="M1076 1008.5C1075.8 1009.4 1074.7 1012 1074.5 1014C1074.3 1016 1074.4 1018.7 1075 1020.5C1075.6 1022.3 1077.5 1024.2 1078 1025" stroke-width="1.4"/><path d="M1076.7 1009.2C1077.3 1008.6 1078.7 1006.6 1080.4 1005.8C1082.1 1005 1085 1003.6 1086.7 1004.2C1088.4 1004.8 1089.5 1007.9 1090.8 1009.2C1092.1 1010.5 1093.9 1010.8 1094.6 1012C1095.3 1013.2 1095.3 1015.1 1095 1016.7C1094.7 1018.3 1094.1 1020 1092.9 1021.7C1091.7 1023.4 1089.4 1025.7 1087.9 1026.7C1086.5 1027.7 1085.8 1027.8 1084.2 1027.5C1082.6 1027.2 1079.7 1026.2 1078.3 1025C1076.9 1023.8 1076.2 1022.2 1075.8 1020.4C1075.4 1018.6 1075.6 1016.1 1075.8 1014.2C1076 1012.3 1076.5 1010 1076.7 1009.2"/><path d="M1084.5 1010L1089.5 1012L1086.5 1013.5M1080.5 1020L1082.5 1024.5L1083 1021" stroke-width="1.5"/><path d="M755.5 949.1Q751.2 946.5 755.5 944L818.8 908.2Q824 905.2 829.2 908.2L877.2 936.1Q881.5 938.6 877.2 941.1L813.3 979Q809 981.5 804.7 978.9Z" stroke-width="2.3"/><path d="M761.9 947.1Q759.3 945.6 761.9 944.1L821.7 909.9Q824.3 908.4 826.9 909.9L870.6 934.8Q873.2 936.3 870.6 937.9L813.4 972.7Q810.8 974.3 808.2 972.8Z" stroke-width="1.7"/><path d="M767.7 944Q766 943 767.8 942L822.5 912Q824.3 911 826 912L864.8 933.6Q866.5 934.6 864.8 935.6L810.7 966.5Q809 967.5 807.3 966.5Z" stroke-width="1.6"/><path d="M753.4 949.8L777.8 963.3M760 947.3L781.2 958.2M840.3 955.7L873.2 936.3M842 962.4L880 942.2" stroke-width="1.4"/><path d="M766 943 L803.2 923.6 L788 954.9Z" fill="#000" stroke="#000" stroke-width="1.2"/><path d="M866.5 934.6 L845.4 924.5 L831.9 955.7Z" fill="#000" stroke="#000" stroke-width="1.2"/><path d="M769.8 943a1.25 0.95 0 1 0 -2.5 0a1.25 0.95 0 1 0 2.5 0M773.2 944.9a1.25 0.95 0 1 0 -2.5 0a1.25 0.95 0 1 0 2.5 0M776.6 946.8a1.25 0.95 0 1 0 -2.5 0a1.25 0.95 0 1 0 2.5 0M773.2 941.1a1.25 0.95 0 1 0 -2.5 0a1.25 0.95 0 1 0 2.5 0M776.6 943a1.25 0.95 0 1 0 -2.5 0a1.25 0.95 0 1 0 2.5 0M780 944.9a1.25 0.95 0 1 0 -2.5 0a1.25 0.95 0 1 0 2.5 0M783.4 946.8a1.25 0.95 0 1 0 -2.5 0a1.25 0.95 0 1 0 2.5 0M786.8 948.7a1.25 0.95 0 1 0 -2.5 0a1.25 0.95 0 1 0 2.5 0M790.2 950.6a1.25 0.95 0 1 0 -2.5 0a1.25 0.95 0 1 0 2.5 0M776.6 939.2a1.25 0.95 0 1 0 -2.5 0a1.25 0.95 0 1 0 2.5 0M780 941.2a1.25 0.95 0 1 0 -2.5 0a1.25 0.95 0 1 0 2.5 0M783.4 943.1a1.25 0.95 0 1 0 -2.5 0a1.25 0.95 0 1 0 2.5 0M786.8 945a1.25 0.95 0 1 0 -2.5 0a1.25 0.95 0 1 0 2.5 0M790.2 946.9a1.25 0.95 0 1 0 -2.5 0a1.25 0.95 0 1 0 2.5 0M780 937.4a1.25 0.95 0 1 0 -2.5 0a1.25 0.95 0 1 0 2.5 0M783.4 939.3a1.25 0.95 0 1 0 -2.5 0a1.25 0.95 0 1 0 2.5 0M786.8 941.2a1.25 0.95 0 1 0 -2.5 0a1.25 0.95 0 1 0 2.5 0M790.2 943.1a1.25 0.95 0 1 0 -2.5 0a1.25 0.95 0 1 0 2.5 0M783.4 935.5a1.25 0.95 0 1 0 -2.5 0a1.25 0.95 0 1 0 2.5 0M786.8 937.4a1.25 0.95 0 1 0 -2.5 0a1.25 0.95 0 1 0 2.5 0M790.2 939.3a1.25 0.95 0 1 0 -2.5 0a1.25 0.95 0 1 0 2.5 0M793.6 941.2a1.25 0.95 0 1 0 -2.5 0a1.25 0.95 0 1 0 2.5 0M786.9 933.6a1.25 0.95 0 1 0 -2.5 0a1.25 0.95 0 1 0 2.5 0M790.3 935.5a1.25 0.95 0 1 0 -2.5 0a1.25 0.95 0 1 0 2.5 0M793.7 937.4a1.25 0.95 0 1 0 -2.5 0a1.25 0.95 0 1 0 2.5 0M790.3 931.7a1.25 0.95 0 1 0 -2.5 0a1.25 0.95 0 1 0 2.5 0M793.7 933.6a1.25 0.95 0 1 0 -2.5 0a1.25 0.95 0 1 0 2.5 0M797.1 935.6a1.25 0.95 0 1 0 -2.5 0a1.25 0.95 0 1 0 2.5 0M797.1 931.8a1.25 0.95 0 1 0 -2.5 0a1.25 0.95 0 1 0 2.5 0M800.5 929.9a1.25 0.95 0 1 0 -2.5 0a1.25 0.95 0 1 0 2.5 0M839.5 947.7a1.25 0.95 0 1 0 -2.5 0a1.25 0.95 0 1 0 2.5 0M839.5 943.9a1.25 0.95 0 1 0 -2.5 0a1.25 0.95 0 1 0 2.5 0M842.9 945.8a1.25 0.95 0 1 0 -2.5 0a1.25 0.95 0 1 0 2.5 0M842.9 942a1.25 0.95 0 1 0 -2.5 0a1.25 0.95 0 1 0 2.5 0M846.3 944a1.25 0.95 0 1 0 -2.5 0a1.25 0.95 0 1 0 2.5 0M842.9 938.3a1.25 0.95 0 1 0 -2.5 0a1.25 0.95 0 1 0 2.5 0M846.3 940.2a1.25 0.95 0 1 0 -2.5 0a1.25 0.95 0 1 0 2.5 0M849.7 942.1a1.25 0.95 0 1 0 -2.5 0a1.25 0.95 0 1 0 2.5 0M846.4 936.4a1.25 0.95 0 1 0 -2.5 0a1.25 0.95 0 1 0 2.5 0M849.8 938.3a1.25 0.95 0 1 0 -2.5 0a1.25 0.95 0 1 0 2.5 0M853.2 940.2a1.25 0.95 0 1 0 -2.5 0a1.25 0.95 0 1 0 2.5 0M846.4 932.6a1.25 0.95 0 1 0 -2.5 0a1.25 0.95 0 1 0 2.5 0M849.8 934.5a1.25 0.95 0 1 0 -2.5 0a1.25 0.95 0 1 0 2.5 0M853.2 936.4a1.25 0.95 0 1 0 -2.5 0a1.25 0.95 0 1 0 2.5 0M856.6 938.3a1.25 0.95 0 1 0 -2.5 0a1.25 0.95 0 1 0 2.5 0M846.4 928.8a1.25 0.95 0 1 0 -2.5 0a1.25 0.95 0 1 0 2.5 0M849.8 930.7a1.25 0.95 0 1 0 -2.5 0a1.25 0.95 0 1 0 2.5 0M853.2 932.6a1.25 0.95 0 1 0 -2.5 0a1.25 0.95 0 1 0 2.5 0M856.6 934.5a1.25 0.95 0 1 0 -2.5 0a1.25 0.95 0 1 0 2.5 0M860 936.4a1.25 0.95 0 1 0 -2.5 0a1.25 0.95 0 1 0 2.5 0M853.2 928.9a1.25 0.95 0 1 0 -2.5 0a1.25 0.95 0 1 0 2.5 0M856.6 930.8a1.25 0.95 0 1 0 -2.5 0a1.25 0.95 0 1 0 2.5 0M860 932.7a1.25 0.95 0 1 0 -2.5 0a1.25 0.95 0 1 0 2.5 0M863.4 934.6a1.25 0.95 0 1 0 -2.5 0a1.25 0.95 0 1 0 2.5 0" fill="#fff" stroke="none"/><path d="M450 1055 L468.3 1026.7 L471.7 1030.8 L505 1011.7 L509 1014 L509 1037.5 L471.7 1057.5 L470.8 1065Z" fill="#000" stroke="#000" stroke-width="1"/><path d="M453.5 1053L468 1030.5" stroke="#fff" stroke-width="1"/><path d="M473.5 1031L505.5 1013" stroke="#fff" stroke-width="0.9"/><text transform="matrix(1 -0.577 0 1 471.5 1056)" font-family="Liberation Sans, sans-serif" font-size="21" fill="#fff" stroke="none" textLength="35" lengthAdjust="spacingAndGlyphs">FWD</text></g><path d="M461.2 74.7L461.2 74.6L461.2 74.5L461.2 74.3L461.2 74.1L461.2 73.9L461.2 73.7L461.1 73.6L461.1 73.5L461 73.4L460.9 73.3L460.7 73.2L460.6 73.2L460.4 73.2L460.2 73.2L460 73.2L459.8 73.2L459.6 73.3L459.3 73.3L459 73.4L458.7 73.5L458.4 73.6L458.1 73.7L457.8 73.9L457.4 74.1L457.1 74.4L456.8 74.7L456.4 75L456 75.4L455.6 75.8L455.3 76.2L454.9 76.6L454.6 77L454.3 77.4L453.9 77.8L453.6 78.3L453.3 78.7L453 79.1L452.7 79.6L452.4 80L452.2 80.4L452 80.7L451.8 81L451.7 81.4L451.6 81.7L451.5 81.9L451.4 82.2L451.4 82.4L451.4 82.6L451.5 82.8L451.6 82.9L451.7 83.1L451.9 83.2L452.1 83.2L452.3 83.3L452.5 83.3L452.8 83.3L453 83.3L453.3 83.2L453.6 83.2L454 83.1L454.3 83L454.6 82.9L454.9 82.7L455.3 82.5L455.6 82.3L455.9 82.1L456.2 81.8L456.5 81.5L456.8 81.2L457.1 80.9L457.4 80.6L457.6 80.3L457.8 80L458 79.6L458.2 79.3L458.3 79L458.4 78.7L458.5 78.4L458.5 78.1L458.5 77.9L458.5 77.7L458.4 77.6L458.3 77.5L458.1 77.4L457.9 77.3L457.7 77.2L457.5 77.2L457.2 77.2L457 77.2L456.7 77.2L456.5 77.2L456.2 77.3L455.9 77.4L455.6 77.5L455.3 77.6L455 77.7L454.7 77.9L454.4 78.1L454.1 78.4L453.7 78.7L453.4 78.9L453.2 79.2L453 79.4L452.8 79.5" fill="none" stroke="#000" stroke-width="2.6" stroke-linecap="round" stroke-linejoin="round"/><path d="M544.2 62.4L549.7 62.4M549.7 62.4L549.4 62.6L549.1 62.8L548.6 63.1L548.1 63.5L547.6 63.9L547.1 64.2L546.6 64.6L546.1 65L545.7 65.4L545.3 65.7L544.8 66.1L544.4 66.5L544 66.9L543.6 67.3L543.1 67.8L542.7 68.2L542.2 68.7L541.7 69.3L541.2 69.9L540.7 70.5L540.3 71.1L539.8 71.7L539.5 72.1L539.2 72.5" fill="none" stroke="#000" stroke-width="2.6" stroke-linecap="round" stroke-linejoin="round"/><path d="M512.9 301.6L520 291.2L509.4 298.4L517.1 298.4" fill="none" stroke="#000" stroke-width="2.6" stroke-linecap="round" stroke-linejoin="round"/><path d="M577.7 261L573.5 261L569.8 266M569.8 266L570 266L570.2 265.9L570.4 265.7L570.7 265.6L571 265.5L571.2 265.4L571.5 265.3L571.7 265.2L571.9 265.1L572.1 265.1L572.3 265L572.4 265L572.6 265L572.8 265L572.9 265L573.1 265.1L573.2 265.1L573.4 265.2L573.6 265.3L573.8 265.4L573.9 265.5L574.1 265.7L574.2 265.8L574.2 266L574.2 266.3L574.1 266.5L574.1 266.8L573.9 267.1L573.8 267.5L573.6 267.8L573.4 268.2L573.2 268.5L573 268.9L572.7 269.2L572.4 269.6L572.1 270L571.7 270.4L571.4 270.8L571 271.1L570.7 271.4L570.4 271.6L570.1 271.8L569.7 271.9L569.4 272L569.1 272.1L568.8 272.2L568.5 272.3L568.2 272.3L568 272.3L567.7 272.3L567.5 272.2L567.4 272.2L567.2 272.1L567 272L566.9 271.9L566.8 271.7L566.8 271.6L566.7 271.4L566.7 271.2L566.7 270.9L566.7 270.7L566.7 270.5L566.8 270.3L566.8 270.2" fill="none" stroke="#000" stroke-width="2.6" stroke-linecap="round" stroke-linejoin="round"/><path d="M615.5 291.1L615.7 290.9L615.9 290.7L616.2 290.5L616.5 290.2L616.8 289.9L617.2 289.7L617.5 289.5L617.8 289.3L618 289.2L618.2 289.1L618.5 289L618.7 289L618.9 288.9L619.2 288.9L619.4 288.9L619.6 288.9L619.8 289L620 289L620.2 289.1L620.4 289.1L620.6 289.2L620.8 289.3L620.9 289.4L621 289.6L621 289.8L621 290L620.9 290.2L620.9 290.5L620.8 290.8L620.6 291L620.5 291.3L620.3 291.6L620.1 291.8L619.9 292.1L619.6 292.4L619.3 292.7L619 292.9L618.7 293.2L618.4 293.4L618.1 293.6L617.8 293.8L617.4 293.9L617 294.1L616.6 294.2L616.3 294.3L615.9 294.4L615.7 294.4L615.5 294.5M615.5 294.5L615.6 294.5L615.8 294.6L616.1 294.6L616.4 294.7L616.7 294.8L616.9 294.9L617.2 295L617.3 295.2L617.4 295.4L617.4 295.6L617.4 295.9L617.4 296.2L617.4 296.5L617.3 296.8L617.1 297.1L617 297.4L616.8 297.7L616.5 298L616.2 298.4L615.9 298.7L615.6 299.1L615.2 299.4L614.9 299.7L614.6 299.9L614.2 300.1L613.9 300.3L613.6 300.4L613.3 300.5L612.9 300.6L612.6 300.6L612.3 300.7L612.1 300.7L611.8 300.7L611.6 300.7L611.4 300.7L611.2 300.6L611 300.5L610.8 300.4L610.7 300.3L610.6 300.2L610.5 300L610.5 299.8L610.5 299.6L610.5 299.3L610.6 299.1L610.6 298.9L610.7 298.7L610.7 298.5" fill="none" stroke="#000" stroke-width="2.6" stroke-linecap="round" stroke-linejoin="round"/><path d="M736.3 251L736.3 251.1L736.3 251.3L736.3 251.4L736.3 251.6L736.3 251.8L736.3 252L736.4 252.2L736.4 252.3L736.5 252.4L736.6 252.5L736.7 252.6L736.8 252.7L737 252.7L737.1 252.7L737.3 252.7L737.5 252.7L737.7 252.7L738 252.6L738.3 252.5L738.6 252.4L738.9 252.3L739.2 252.2L739.5 252L739.8 251.8L740.1 251.5L740.5 251.2L740.8 250.8L741.2 250.4L741.5 250L741.9 249.6L742.2 249.1L742.6 248.7L742.9 248.3L743.2 247.8L743.5 247.3L743.8 246.8L744.1 246.3L744.4 245.8L744.7 245.3L744.9 244.9L745.1 244.5L745.2 244.1L745.4 243.8L745.5 243.4L745.6 243.1L745.7 242.8L745.7 242.5L745.7 242.2L745.6 242L745.6 241.9L745.4 241.7L745.3 241.6L745.1 241.5L744.9 241.4L744.7 241.4L744.5 241.3L744.2 241.4L744 241.4L743.7 241.4L743.4 241.5L743.1 241.6L742.8 241.8L742.5 242L742.2 242.2L741.9 242.4L741.5 242.7L741.2 243L740.9 243.3L740.6 243.7L740.3 244L740 244.4L739.8 244.7L739.6 245.1L739.4 245.4L739.2 245.8L739.1 246.2L739 246.5L738.9 246.8L738.9 247.1L738.9 247.4L738.9 247.6L739 247.8L739.2 247.9L739.4 248L739.6 248.1L739.8 248.2L740 248.2L740.2 248.2L740.5 248.2L740.7 248.2L741 248.2L741.3 248.1L741.6 248L741.9 247.9L742.2 247.7L742.4 247.6L742.7 247.4L743 247.1L743.3 246.9L743.6 246.6L743.8 246.3L744.1 246L744.3 245.8L744.4 245.7" fill="none" stroke="#000" stroke-width="2.6" stroke-linecap="round" stroke-linejoin="round"/><path d="M874.1 286.4L873.7 287L873.2 287.5L872.6 288L872 288.4L871.4 288.7L870.8 288.9L870.2 288.9L869.8 288.9L869.4 288.7L869.2 288.4L869.1 288L869.2 287.5L869.4 287L869.7 286.4L870.1 285.8L870.6 285.3L871.2 284.8L871.8 284.4L872.4 284.1L873 283.9L873.6 283.9L874 283.9L874.4 284.1L874.6 284.4L874.7 284.8L874.6 285.3L874.5 285.8L874.1 286.4M871.2 291.4L870.8 292L870.2 292.6L869.5 293.2L868.8 293.6L868 293.9L867.3 294.1L866.7 294.2L866.1 294.1L865.7 293.9L865.4 293.6L865.3 293.2L865.3 292.6L865.5 292L865.9 291.4L866.3 290.8L866.9 290.2L867.6 289.7L868.3 289.3L869.1 288.9L869.8 288.7L870.4 288.7L871 288.7L871.4 288.9L871.7 289.3L871.8 289.7L871.8 290.2L871.6 290.8L871.2 291.4" fill="none" stroke="#000" stroke-width="2.6" stroke-linecap="round" stroke-linejoin="round"/><path d="M948.2 347.1L948.4 347L948.6 346.8L948.9 346.5L949.2 346.3L949.5 346L949.9 345.8L950.2 345.6L950.5 345.4L950.7 345.3L950.9 345.2L951.2 345.2L951.4 345.1L951.6 345.1L951.9 345.1L952.1 345.1L952.3 345.1L952.5 345.1L952.7 345.2L952.9 345.2L953.1 345.3L953.3 345.3L953.5 345.4L953.6 345.6L953.7 345.7L953.7 345.9L953.7 346.1L953.6 346.3L953.6 346.5L953.5 346.8L953.3 347.1L953.2 347.3L953 347.6L952.8 347.8L952.6 348.1L952.3 348.3L952 348.6L951.7 348.9L951.4 349.1L951.1 349.3L950.8 349.5L950.5 349.7L950.1 349.8L949.7 349.9L949.3 350.1L949 350.1L948.6 350.2L948.4 350.3L948.2 350.3M948.2 350.3L948.3 350.4L948.5 350.4L948.8 350.5L949.1 350.5L949.4 350.6L949.6 350.7L949.9 350.8L950 351L950.1 351.2L950.1 351.4L950.1 351.6L950.1 351.9L950.1 352.2L950 352.5L949.8 352.8L949.7 353L949.5 353.3L949.2 353.7L948.9 354L948.6 354.3L948.3 354.7L947.9 355L947.6 355.2L947.3 355.5L946.9 355.6L946.6 355.8L946.3 355.9L946 356L945.6 356.1L945.3 356.1L945 356.2L944.8 356.2L944.5 356.2L944.3 356.2L944.1 356.2L943.9 356.1L943.7 356L943.5 356L943.4 355.9L943.3 355.7L943.2 355.6L943.2 355.4L943.2 355.2L943.2 354.9L943.3 354.7L943.3 354.5L943.4 354.3L943.4 354.2" fill="none" stroke="#000" stroke-width="2.6" stroke-linecap="round" stroke-linejoin="round"/><path d="M1074.8 494.3L1074.9 494.1L1075.1 493.9L1075.4 493.7L1075.6 493.4L1075.9 493.1L1076.2 492.9L1076.5 492.6L1076.7 492.4L1077 492.3L1077.3 492.1L1077.6 492L1077.9 491.9L1078.2 491.8L1078.5 491.8L1078.8 491.7L1079 491.7L1079.2 491.7L1079.5 491.7L1079.7 491.8L1079.9 491.8L1080 491.9L1080.2 492L1080.3 492.1L1080.4 492.3L1080.4 492.4L1080.4 492.6L1080.4 492.8L1080.3 493L1080.2 493.3L1080.1 493.5L1080 493.7L1079.8 494L1079.7 494.2L1079.5 494.4L1079.2 494.7L1079 494.9L1078.7 495.1L1078.4 495.4L1078.1 495.6L1077.8 495.8L1077.5 496L1077.1 496.2L1076.7 496.4L1076.4 496.6L1076 496.8L1075.6 496.9L1075.2 497.1L1074.8 497.3L1074.5 497.5L1074.1 497.7L1073.8 497.9L1073.5 498.1L1073.1 498.3L1072.8 498.5L1072.5 498.7L1072.1 499L1071.8 499.3L1071.4 499.7L1071.1 500.1L1070.7 500.5L1070.4 500.8L1070 501.2L1069.8 501.5L1069.6 501.7M1069.6 501.7L1074.7 501.7" fill="none" stroke="#000" stroke-width="2.6" stroke-linecap="round" stroke-linejoin="round"/><path d="M1009.8 523.7L1013.9 521.8L1005.6 532.4M1016.8 524.5L1017 524.3L1017.2 524.1L1017.5 523.8L1017.8 523.5L1018.1 523.2L1018.5 523L1018.8 522.7L1019.2 522.5L1019.5 522.3L1019.9 522.2L1020.3 522L1020.6 521.9L1021 521.8L1021.4 521.8L1021.7 521.7L1022 521.7L1022.3 521.7L1022.5 521.7L1022.8 521.8L1023 521.8L1023.2 521.9L1023.4 522L1023.6 522.2L1023.7 522.3L1023.7 522.5L1023.7 522.7L1023.7 522.9L1023.6 523.1L1023.5 523.4L1023.4 523.6L1023.2 523.9L1023 524.1L1022.8 524.4L1022.5 524.6L1022.3 524.9L1021.9 525.1L1021.6 525.4L1021.2 525.6L1020.9 525.9L1020.5 526.1L1020.1 526.3L1019.7 526.5L1019.2 526.7L1018.7 526.9L1018.2 527.1L1017.8 527.3L1017.3 527.5L1016.9 527.7L1016.4 527.9L1016 528.1L1015.6 528.3L1015.1 528.5L1014.7 528.8L1014.3 529L1013.9 529.2L1013.5 529.5L1013.1 529.8L1012.6 530.2L1012.2 530.6L1011.7 531.1L1011.3 531.5L1011 531.9L1010.6 532.2L1010.4 532.4M1010.4 532.4L1016.7 532.4" fill="none" stroke="#000" stroke-width="2.6" stroke-linecap="round" stroke-linejoin="round"/><path d="M906.5 586.9L910.4 585.2L902.3 595M917.8 590L917 590.9L916.2 591.7L915.3 592.5L914.4 593.2L913.4 593.8L912.5 594.3L911.7 594.7L911 594.9L910.3 595L909.8 594.9L909.4 594.7L909.2 594.3L909.1 593.8L909.2 593.2L909.4 592.5L909.8 591.7L910.4 590.9L911 590L911.8 589.1L912.6 588.3L913.5 587.5L914.4 586.8L915.4 586.2L916.3 585.7L917.1 585.3L917.8 585.1L918.5 585L919 585.1L919.4 585.3L919.6 585.7L919.7 586.2L919.6 586.8L919.4 587.5L919 588.3L918.4 589.1L917.8 590" fill="none" stroke="#000" stroke-width="2.6" stroke-linecap="round" stroke-linejoin="round"/><path d="M940.9 624.8L944.6 623.2L937 632.4M947.5 624.8L951.2 623.2L943.6 632.4" fill="none" stroke="#000" stroke-width="2.6" stroke-linecap="round" stroke-linejoin="round"/><path d="M976.4 608.9L980.2 607.2L972.3 617M983.7 608.8L983.9 608.7L984.1 608.5L984.4 608.3L984.8 608.1L985.1 607.9L985.5 607.7L985.8 607.5L986.1 607.3L986.4 607.2L986.7 607.2L986.9 607.1L987.2 607.1L987.4 607L987.7 607L987.9 607L988.1 607L988.4 607.1L988.6 607.1L988.8 607.1L989.1 607.2L989.3 607.3L989.5 607.3L989.6 607.5L989.7 607.6L989.7 607.7L989.7 607.9L989.6 608.1L989.6 608.3L989.4 608.6L989.3 608.8L989.1 609L989 609.3L988.7 609.5L988.5 609.7L988.2 609.9L987.9 610.2L987.5 610.4L987.2 610.6L986.8 610.8L986.5 611L986.1 611.1L985.7 611.3L985.3 611.4L984.9 611.5L984.5 611.6L984.1 611.6L983.8 611.7L983.6 611.8M983.6 611.8L983.8 611.8L984 611.8L984.3 611.9L984.6 611.9L985 612L985.3 612.1L985.5 612.2L985.6 612.3L985.7 612.5L985.8 612.7L985.8 612.9L985.8 613.2L985.7 613.4L985.6 613.7L985.5 613.9L985.3 614.2L985.1 614.4L984.8 614.7L984.5 615L984.1 615.3L983.7 615.6L983.4 615.9L983 616.1L982.6 616.3L982.3 616.5L981.9 616.6L981.6 616.7L981.2 616.8L980.8 616.9L980.5 616.9L980.2 617L979.9 617L979.6 617L979.4 617L979.1 617L978.9 616.9L978.7 616.9L978.5 616.8L978.4 616.7L978.3 616.6L978.2 616.4L978.2 616.3L978.2 616.1L978.2 615.8L978.3 615.6L978.3 615.4L978.4 615.3L978.4 615.2" fill="none" stroke="#000" stroke-width="2.6" stroke-linecap="round" stroke-linejoin="round"/><path d="M1097.9 744.7L1100.5 742.8L1095.2 753.4" fill="none" stroke="#000" stroke-width="2.6" stroke-linecap="round" stroke-linejoin="round"/><path d="M707.9 662.1L708 661.9L708.3 661.7L708.5 661.5L708.8 661.2L709.1 660.9L709.4 660.6L709.7 660.3L710 660.1L710.3 659.9L710.7 659.8L711 659.7L711.3 659.5L711.6 659.4L712 659.4L712.3 659.3L712.5 659.3L712.8 659.3L713 659.3L713.2 659.4L713.5 659.4L713.6 659.5L713.8 659.7L713.9 659.8L714 659.9L714.1 660.1L714.1 660.3L714 660.5L714 660.7L713.9 661L713.7 661.2L713.6 661.5L713.4 661.7L713.2 662L713 662.2L712.8 662.5L712.5 662.8L712.2 663L711.9 663.3L711.5 663.5L711.2 663.7L710.8 664L710.5 664.2L710 664.4L709.6 664.6L709.2 664.8L708.8 665L708.4 665.2L708 665.4L707.6 665.6L707.2 665.8L706.8 666L706.4 666.2L706.1 666.4L705.7 666.7L705.3 666.9L705 667.2L704.6 667.5L704.2 667.9L703.8 668.3L703.4 668.8L703 669.2L702.7 669.6L702.4 669.9L702.2 670.1M702.2 670.1L707.8 670.1M717.8 661.3L721.4 659.4L714 670.1" fill="none" stroke="#000" stroke-width="2.6" stroke-linecap="round" stroke-linejoin="round"/><path d="M617 685.1L617.2 684.9L617.4 684.7L617.6 684.5L617.9 684.2L618.2 683.9L618.5 683.7L618.8 683.4L619.1 683.2L619.4 683.1L619.7 682.9L620 682.8L620.3 682.7L620.6 682.6L620.9 682.6L621.2 682.5L621.4 682.5L621.7 682.5L621.9 682.5L622.1 682.6L622.3 682.6L622.5 682.7L622.7 682.8L622.8 682.9L622.9 683.1L622.9 683.2L622.9 683.4L622.9 683.6L622.8 683.8L622.7 684.1L622.6 684.3L622.5 684.5L622.3 684.7L622.1 685L621.9 685.2L621.7 685.4L621.4 685.7L621.1 685.9L620.8 686.1L620.5 686.4L620.2 686.6L619.8 686.8L619.5 687L619.1 687.2L618.7 687.4L618.3 687.5L617.9 687.7L617.5 687.9L617.1 688.1L616.7 688.3L616.4 688.5L616 688.7L615.6 688.9L615.3 689.1L614.9 689.3L614.6 689.5L614.2 689.8L613.9 690.1L613.5 690.4L613.1 690.8L612.7 691.2L612.4 691.6L612.1 691.9L611.8 692.2L611.6 692.5M611.6 692.5L616.9 692.5M626.3 685.1L626.5 684.9L626.7 684.7L626.9 684.5L627.2 684.2L627.5 683.9L627.8 683.7L628.1 683.4L628.4 683.2L628.7 683.1L629 682.9L629.3 682.8L629.6 682.7L629.9 682.6L630.2 682.6L630.5 682.5L630.7 682.5L631 682.5L631.2 682.5L631.4 682.6L631.6 682.6L631.8 682.7L632 682.8L632.1 682.9L632.2 683.1L632.2 683.2L632.2 683.4L632.2 683.6L632.1 683.8L632 684.1L631.9 684.3L631.8 684.5L631.6 684.7L631.4 685L631.2 685.2L631 685.4L630.7 685.7L630.4 685.9L630.1 686.1L629.8 686.4L629.5 686.6L629.1 686.8L628.8 687L628.4 687.2L628 687.4L627.6 687.5L627.2 687.7L626.8 687.9L626.4 688.1L626 688.3L625.7 688.5L625.3 688.7L624.9 688.9L624.6 689.1L624.2 689.3L623.9 689.5L623.5 689.8L623.2 690.1L622.8 690.4L622.4 690.8L622 691.2L621.7 691.6L621.4 691.9L621.1 692.2L620.9 692.5M620.9 692.5L626.2 692.5" fill="none" stroke="#000" stroke-width="2.6" stroke-linecap="round" stroke-linejoin="round"/><path d="M830.7 751.4L834.5 749.6L826.7 759.8M836.9 759.8L844.7 749.5L833 756.7L841.5 756.7" fill="none" stroke="#000" stroke-width="2.6" stroke-linecap="round" stroke-linejoin="round"/><path d="M739.3 851.6L743.1 849.8L735.2 860M753.7 849.7L748.9 849.7L744.7 854.3M744.7 854.3L744.9 854.2L745.2 854.1L745.4 854L745.7 853.9L746.1 853.8L746.4 853.7L746.7 853.6L746.9 853.5L747.1 853.4L747.3 853.4L747.5 853.4L747.7 853.4L747.9 853.3L748.1 853.4L748.3 853.4L748.4 853.4L748.6 853.5L748.8 853.5L749 853.6L749.2 853.7L749.4 853.8L749.6 853.9L749.7 854.1L749.7 854.3L749.7 854.5L749.7 854.7L749.6 855L749.4 855.3L749.3 855.6L749.1 855.9L748.8 856.2L748.6 856.5L748.3 856.9L748 857.2L747.7 857.6L747.3 857.9L746.9 858.3L746.5 858.6L746.1 858.9L745.8 859.1L745.4 859.3L745 859.5L744.6 859.6L744.3 859.8L743.9 859.9L743.5 859.9L743.2 860L742.9 860L742.6 860L742.4 860L742.2 859.9L742 859.9L741.8 859.8L741.6 859.7L741.5 859.6L741.3 859.5L741.3 859.3L741.2 859.2L741.2 859L741.2 858.8L741.2 858.5L741.3 858.4L741.3 858.2L741.3 858.1" fill="none" stroke="#000" stroke-width="2.6" stroke-linecap="round" stroke-linejoin="round"/><path d="M895.5 809.2L899.4 807.1L891.4 818.7M907.8 809.9L907.3 810.5L906.7 811.1L906 811.6L905.3 812.1L904.5 812.4L903.8 812.6L903.2 812.7L902.7 812.6L902.3 812.4L902 812.1L901.9 811.6L902 811.1L902.2 810.5L902.6 809.9L903.1 809.2L903.7 808.6L904.4 808.1L905.1 807.6L905.8 807.3L906.5 807.1L907.1 807L907.7 807.1L908.1 807.3L908.3 807.6L908.4 808.1L908.4 808.6L908.2 809.2L907.8 809.9M904.4 815.6L903.8 816.3L903.1 816.9L902.4 817.5L901.5 818L900.7 818.4L899.8 818.6L899.1 818.7L898.4 818.6L897.9 818.4L897.6 818L897.4 817.5L897.5 816.9L897.7 816.3L898.1 815.6L898.7 814.9L899.4 814.2L900.1 813.6L901 813.1L901.8 812.7L902.7 812.5L903.4 812.4L904.1 812.5L904.6 812.7L904.9 813.1L905.1 813.6L905 814.2L904.8 814.9L904.4 815.6" fill="none" stroke="#000" stroke-width="2.6" stroke-linecap="round" stroke-linejoin="round"/><path d="M954.2 807.4L958 805.5L950.3 816M962.3 805.4L968.5 805.4M968.5 805.4L968.2 805.6L967.8 805.9L967.3 806.2L966.7 806.6L966.2 806.9L965.6 807.4L965 807.8L964.5 808.2L964 808.5L963.5 808.9L963 809.3L962.5 809.7L962.1 810.2L961.6 810.6L961.1 811.1L960.6 811.5L960.1 812.1L959.5 812.7L959 813.3L958.4 814L957.9 814.6L957.4 815.2L957 815.6L956.7 816" fill="none" stroke="#000" stroke-width="2.6" stroke-linecap="round" stroke-linejoin="round"/><path d="M1026.7 845.7L1030.5 843.8L1022.6 854.8M1039.7 845.3L1039.7 845.2L1039.7 845L1039.7 844.8L1039.7 844.6L1039.7 844.4L1039.7 844.2L1039.6 844L1039.5 843.9L1039.4 843.8L1039.3 843.7L1039.2 843.7L1039 843.6L1038.8 843.6L1038.6 843.6L1038.4 843.6L1038.2 843.6L1037.9 843.7L1037.6 843.8L1037.3 843.8L1036.9 843.9L1036.6 844L1036.2 844.2L1035.9 844.4L1035.5 844.6L1035.1 844.9L1034.7 845.3L1034.3 845.6L1033.9 846L1033.5 846.5L1033.1 846.9L1032.7 847.4L1032.3 847.8L1031.9 848.2L1031.6 848.7L1031.2 849.2L1030.8 849.7L1030.5 850.2L1030.2 850.7L1029.9 851.1L1029.6 851.5L1029.4 851.9L1029.2 852.3L1029.1 852.6L1028.9 853L1028.8 853.3L1028.8 853.6L1028.7 853.8L1028.7 854.1L1028.8 854.2L1028.9 854.4L1029.1 854.5L1029.3 854.6L1029.5 854.7L1029.8 854.8L1030 854.8L1030.3 854.8L1030.6 854.8L1030.9 854.7L1031.2 854.7L1031.6 854.6L1032 854.5L1032.3 854.3L1032.7 854.2L1033.1 854L1033.4 853.7L1033.8 853.5L1034.1 853.1L1034.5 852.8L1034.8 852.5L1035.1 852.1L1035.4 851.8L1035.7 851.4L1035.9 851.1L1036.1 850.8L1036.3 850.4L1036.5 850L1036.6 849.7L1036.7 849.4L1036.7 849.1L1036.7 848.8L1036.7 848.6L1036.6 848.5L1036.4 848.3L1036.2 848.2L1036 848.1L1035.8 848.1L1035.5 848L1035.3 848L1035 848L1034.7 848L1034.4 848.1L1034.1 848.1L1033.7 848.2L1033.4 848.3L1033 848.5L1032.7 848.6L1032.4 848.8L1032.1 849.1L1031.7 849.4L1031.4 849.7L1031 850L1030.7 850.2L1030.5 850.4L1030.3 850.6" fill="none" stroke="#000" stroke-width="2.6" stroke-linecap="round" stroke-linejoin="round"/><path d="M1086.8 1065.4L1090.6 1063.5L1082.8 1074.4M1088.9 1072.7L1088.9 1072.8L1088.8 1073L1088.8 1073.2L1088.8 1073.4L1088.8 1073.6L1088.8 1073.7L1088.9 1073.9L1089 1074L1089 1074.1L1089.2 1074.2L1089.3 1074.3L1089.4 1074.4L1089.6 1074.4L1089.8 1074.4L1090 1074.4L1090.2 1074.4L1090.5 1074.4L1090.8 1074.3L1091.1 1074.2L1091.4 1074.1L1091.8 1074L1092.1 1073.9L1092.5 1073.7L1092.8 1073.5L1093.2 1073.2L1093.6 1072.9L1094 1072.5L1094.4 1072.2L1094.8 1071.8L1095.2 1071.4L1095.6 1070.9L1096 1070.5L1096.4 1070.1L1096.7 1069.6L1097.1 1069.1L1097.5 1068.6L1097.8 1068.2L1098.1 1067.7L1098.4 1067.2L1098.7 1066.8L1098.9 1066.4L1099.1 1066L1099.2 1065.7L1099.4 1065.3L1099.5 1065L1099.6 1064.7L1099.6 1064.5L1099.6 1064.2L1099.5 1064L1099.4 1063.8L1099.3 1063.7L1099.1 1063.6L1098.9 1063.5L1098.7 1063.4L1098.4 1063.4L1098.2 1063.3L1097.9 1063.4L1097.6 1063.4L1097.3 1063.4L1096.9 1063.5L1096.6 1063.6L1096.2 1063.8L1095.9 1063.9L1095.6 1064.1L1095.2 1064.4L1094.8 1064.6L1094.5 1064.9L1094.1 1065.3L1093.7 1065.6L1093.4 1066L1093.1 1066.3L1092.8 1066.6L1092.6 1067L1092.4 1067.3L1092.2 1067.7L1092 1068L1091.9 1068.4L1091.8 1068.7L1091.8 1069L1091.8 1069.2L1091.9 1069.4L1092 1069.6L1092.1 1069.7L1092.4 1069.8L1092.6 1069.9L1092.8 1070L1093.1 1070L1093.4 1070.1L1093.6 1070.1L1093.9 1070L1094.2 1070L1094.6 1069.9L1094.9 1069.8L1095.2 1069.7L1095.6 1069.6L1095.9 1069.4L1096.2 1069.2L1096.5 1069L1096.8 1068.7L1097.2 1068.4L1097.5 1068.2L1097.7 1067.9L1098 1067.7L1098.1 1067.6" fill="none" stroke="#000" stroke-width="2.6" stroke-linecap="round" stroke-linejoin="round"/><path d="M702.9 944.1L703.1 943.9L703.3 943.7L703.6 943.4L703.9 943.1L704.2 942.8L704.5 942.5L704.8 942.2L705.1 942L705.4 941.8L705.7 941.7L706 941.5L706.4 941.4L706.7 941.3L707 941.2L707.3 941.2L707.6 941.1L707.8 941.1L708 941.2L708.3 941.2L708.5 941.3L708.7 941.4L708.8 941.5L709 941.7L709 941.8L709.1 942L709.1 942.2L709 942.4L709 942.7L708.9 942.9L708.8 943.2L708.6 943.5L708.5 943.7L708.3 944L708 944.2L707.8 944.5L707.5 944.8L707.2 945L706.9 945.3L706.6 945.6L706.2 945.8L705.9 946L705.5 946.2L705.1 946.5L704.7 946.7L704.2 946.9L703.8 947.1L703.4 947.3L703 947.5L702.6 947.7L702.3 947.9L701.9 948.2L701.5 948.4L701.1 948.6L700.8 948.9L700.4 949.1L700.1 949.4L699.7 949.8L699.3 950.2L698.9 950.6L698.5 951L698.1 951.5L697.8 951.9L697.5 952.2L697.3 952.5M697.3 952.5L702.9 952.5M716.7 946.8L716 947.7L715.3 948.7L714.5 949.6L713.6 950.4L712.8 951.1L712 951.6L711.2 952.1L710.6 952.3L710 952.4L709.5 952.3L709.2 952.1L709 951.6L708.9 951.1L709 950.4L709.2 949.6L709.5 948.7L710 947.7L710.6 946.8L711.3 945.8L712.1 944.8L712.9 943.9L713.7 943.1L714.5 942.4L715.3 941.9L716.1 941.4L716.8 941.2L717.4 941.1L717.8 941.2L718.2 941.4L718.4 941.9L718.4 942.4L718.4 943.1L718.1 943.9L717.8 944.8L717.3 945.8L716.7 946.8" fill="none" stroke="#000" stroke-width="2.6" stroke-linecap="round" stroke-linejoin="round"/><g stroke="#000" stroke-width="1.8" fill="none"><line x1="452.5" y1="87.5" x2="452.5" y2="118"/><line x1="501.5" y1="67.4" x2="531.5" y2="67"/><line x1="511.6" y1="243.75" x2="511.6" y2="286.75"/><line x1="568" y1="217.5" x2="568" y2="256.6"/><line x1="611.8" y1="253" x2="611.8" y2="284.1"/><line x1="737.5" y1="256" x2="737.5" y2="286"/><line x1="866.7" y1="297.5" x2="866.7" y2="328"/><line x1="945" y1="359.4" x2="945" y2="388.75"/><line x1="1072.3" y1="506.3" x2="1072.3" y2="534.3"/><line x1="1009.7" y1="535.7" x2="1009.7" y2="563.7"/><line x1="905.7" y1="538.3" x2="905.7" y2="581"/><line x1="939.7" y1="589" x2="939.7" y2="619"/><line x1="977" y1="577" x2="977" y2="603.7"/><line x1="1094.6" y1="701" x2="1094.2" y2="739.6"/><line x1="707.9" y1="674.5" x2="707.9" y2="710"/><line x1="618.6" y1="697.2" x2="618.6" y2="733"/><line x1="831.4" y1="764.4" x2="831.4" y2="791"/><line x1="738.75" y1="806" x2="738.75" y2="847.3"/><line x1="895.4" y1="821" x2="895.4" y2="856.6"/><line x1="953.9" y1="820" x2="953.9" y2="856.6"/><line x1="1026.6" y1="858.2" x2="1026.6" y2="896"/><line x1="1086.9" y1="1028" x2="1086.9" y2="1060.5"/><line x1="719.75" y1="947" x2="751.7" y2="947"/></g><g font-family="Liberation Sans, sans-serif" font-style="italic" fill="#000"><text transform="translate(422.7 28.7) skewX(-21) scale(0.85 1)" font-size="33.6" font-style="normal">F</text><text transform="translate(443.1 28.7) skewX(-21) scale(0.85 1)" font-size="33.6" font-style="normal">I</text><text transform="translate(455.5 28.7) skewX(-21) scale(0.92 1)" font-size="33.6" font-style="normal">G</text><text transform="translate(480.5 28.7) skewX(-21) scale(0.85 1)" font-size="33.6" font-style="normal">.</text><text transform="translate(488.5 28.7) skewX(-21) scale(0.85 1)" font-size="33.6" font-style="normal">1</text><text transform="translate(509.3 28.7) skewX(-21) scale(0.85 1)" font-size="33.6" font-style="normal">7</text><text transform="translate(527.2 28.7) skewX(-21) scale(0.92 1)" font-size="33.6" font-style="normal">0</text><text transform="translate(550 28.7) skewX(-21) scale(0.85 1)" font-size="33.6" font-style="normal">A</text><text x="425.5" y="1166.7" font-size="15" textLength="129.5" lengthAdjust="spacingAndGlyphs">AN400L5_E02_170A</text><text x="425.5" y="1190.8" font-size="15" textLength="67" lengthAdjust="spacingAndGlyphs">OIL PUMP</text></g></svg></body></html>
